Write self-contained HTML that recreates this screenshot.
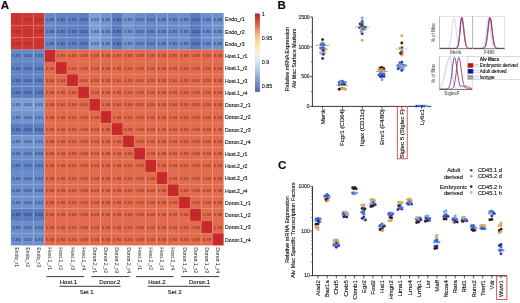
<!DOCTYPE html>
<html><head><meta charset="utf-8"><style>
html,body{margin:0;padding:0;background:#fff;width:520px;height:303px;overflow:hidden}
svg{display:block;font-family:"Liberation Sans", sans-serif;filter:blur(0.4px)}
text{stroke:#1a1a1a;stroke-width:0.14px}
text.c{stroke:none}
</style></head><body>
<svg width="520" height="303" viewBox="0 0 520 303">
<rect width="520" height="303" fill="#fff"/>
<rect x="10.90" y="13.00" width="11.24" height="12.28" fill="#cd3431" stroke="none" stroke-width="0.6"/>
<rect x="22.09" y="13.00" width="11.24" height="12.28" fill="#cf3833" stroke="none" stroke-width="0.6"/>
<rect x="33.29" y="13.00" width="11.24" height="12.28" fill="#cf3833" stroke="none" stroke-width="0.6"/>
<rect x="44.48" y="13.00" width="11.24" height="12.28" fill="#6789c8" stroke="none" stroke-width="0.6"/>
<rect x="55.68" y="13.00" width="11.24" height="12.28" fill="#6183c4" stroke="none" stroke-width="0.6"/>
<rect x="66.87" y="13.00" width="11.24" height="12.28" fill="#6183c4" stroke="none" stroke-width="0.6"/>
<rect x="78.07" y="13.00" width="11.24" height="12.28" fill="#5d7fc2" stroke="none" stroke-width="0.6"/>
<rect x="89.26" y="13.00" width="11.24" height="12.28" fill="#7d9dd4" stroke="none" stroke-width="0.6"/>
<rect x="100.46" y="13.00" width="11.24" height="12.28" fill="#7393cd" stroke="none" stroke-width="0.6"/>
<rect x="111.65" y="13.00" width="11.24" height="12.28" fill="#5c7ec1" stroke="none" stroke-width="0.6"/>
<rect x="122.85" y="13.00" width="11.24" height="12.28" fill="#7496cf" stroke="none" stroke-width="0.6"/>
<rect x="134.04" y="13.00" width="11.24" height="12.28" fill="#6a8cca" stroke="none" stroke-width="0.6"/>
<rect x="145.24" y="13.00" width="11.24" height="12.28" fill="#6587c7" stroke="none" stroke-width="0.6"/>
<rect x="156.43" y="13.00" width="11.24" height="12.28" fill="#6a8cca" stroke="none" stroke-width="0.6"/>
<rect x="167.63" y="13.00" width="11.24" height="12.28" fill="#6a8cca" stroke="none" stroke-width="0.6"/>
<rect x="178.82" y="13.00" width="11.24" height="12.28" fill="#6d8fcb" stroke="none" stroke-width="0.6"/>
<rect x="190.02" y="13.00" width="11.24" height="12.28" fill="#5a7bbf" stroke="none" stroke-width="0.6"/>
<rect x="201.21" y="13.00" width="11.24" height="12.28" fill="#6b8dca" stroke="none" stroke-width="0.6"/>
<rect x="212.41" y="13.00" width="11.24" height="12.28" fill="#6e90cb" stroke="none" stroke-width="0.6"/>
<rect x="10.90" y="25.23" width="11.24" height="12.28" fill="#cf3833" stroke="none" stroke-width="0.6"/>
<rect x="22.09" y="25.23" width="11.24" height="12.28" fill="#cd3431" stroke="none" stroke-width="0.6"/>
<rect x="33.29" y="25.23" width="11.24" height="12.28" fill="#cf3833" stroke="none" stroke-width="0.6"/>
<rect x="44.48" y="25.23" width="11.24" height="12.28" fill="#6789c8" stroke="none" stroke-width="0.6"/>
<rect x="55.68" y="25.23" width="11.24" height="12.28" fill="#6183c4" stroke="none" stroke-width="0.6"/>
<rect x="66.87" y="25.23" width="11.24" height="12.28" fill="#6183c4" stroke="none" stroke-width="0.6"/>
<rect x="78.07" y="25.23" width="11.24" height="12.28" fill="#5d7fc2" stroke="none" stroke-width="0.6"/>
<rect x="89.26" y="25.23" width="11.24" height="12.28" fill="#7d9dd4" stroke="none" stroke-width="0.6"/>
<rect x="100.46" y="25.23" width="11.24" height="12.28" fill="#7393cd" stroke="none" stroke-width="0.6"/>
<rect x="111.65" y="25.23" width="11.24" height="12.28" fill="#5c7ec1" stroke="none" stroke-width="0.6"/>
<rect x="122.85" y="25.23" width="11.24" height="12.28" fill="#7496cf" stroke="none" stroke-width="0.6"/>
<rect x="134.04" y="25.23" width="11.24" height="12.28" fill="#6a8cca" stroke="none" stroke-width="0.6"/>
<rect x="145.24" y="25.23" width="11.24" height="12.28" fill="#6587c7" stroke="none" stroke-width="0.6"/>
<rect x="156.43" y="25.23" width="11.24" height="12.28" fill="#6a8cca" stroke="none" stroke-width="0.6"/>
<rect x="167.63" y="25.23" width="11.24" height="12.28" fill="#6a8cca" stroke="none" stroke-width="0.6"/>
<rect x="178.82" y="25.23" width="11.24" height="12.28" fill="#6d8fcb" stroke="none" stroke-width="0.6"/>
<rect x="190.02" y="25.23" width="11.24" height="12.28" fill="#5a7bbf" stroke="none" stroke-width="0.6"/>
<rect x="201.21" y="25.23" width="11.24" height="12.28" fill="#6b8dca" stroke="none" stroke-width="0.6"/>
<rect x="212.41" y="25.23" width="11.24" height="12.28" fill="#6e90cb" stroke="none" stroke-width="0.6"/>
<rect x="10.90" y="37.46" width="11.24" height="12.28" fill="#cf3833" stroke="none" stroke-width="0.6"/>
<rect x="22.09" y="37.46" width="11.24" height="12.28" fill="#cf3833" stroke="none" stroke-width="0.6"/>
<rect x="33.29" y="37.46" width="11.24" height="12.28" fill="#cd3431" stroke="none" stroke-width="0.6"/>
<rect x="44.48" y="37.46" width="11.24" height="12.28" fill="#6789c8" stroke="none" stroke-width="0.6"/>
<rect x="55.68" y="37.46" width="11.24" height="12.28" fill="#6183c4" stroke="none" stroke-width="0.6"/>
<rect x="66.87" y="37.46" width="11.24" height="12.28" fill="#6183c4" stroke="none" stroke-width="0.6"/>
<rect x="78.07" y="37.46" width="11.24" height="12.28" fill="#5d7fc2" stroke="none" stroke-width="0.6"/>
<rect x="89.26" y="37.46" width="11.24" height="12.28" fill="#7d9dd4" stroke="none" stroke-width="0.6"/>
<rect x="100.46" y="37.46" width="11.24" height="12.28" fill="#7393cd" stroke="none" stroke-width="0.6"/>
<rect x="111.65" y="37.46" width="11.24" height="12.28" fill="#5c7ec1" stroke="none" stroke-width="0.6"/>
<rect x="122.85" y="37.46" width="11.24" height="12.28" fill="#7496cf" stroke="none" stroke-width="0.6"/>
<rect x="134.04" y="37.46" width="11.24" height="12.28" fill="#6a8cca" stroke="none" stroke-width="0.6"/>
<rect x="145.24" y="37.46" width="11.24" height="12.28" fill="#6587c7" stroke="none" stroke-width="0.6"/>
<rect x="156.43" y="37.46" width="11.24" height="12.28" fill="#6a8cca" stroke="none" stroke-width="0.6"/>
<rect x="167.63" y="37.46" width="11.24" height="12.28" fill="#6a8cca" stroke="none" stroke-width="0.6"/>
<rect x="178.82" y="37.46" width="11.24" height="12.28" fill="#6d8fcb" stroke="none" stroke-width="0.6"/>
<rect x="190.02" y="37.46" width="11.24" height="12.28" fill="#5a7bbf" stroke="none" stroke-width="0.6"/>
<rect x="201.21" y="37.46" width="11.24" height="12.28" fill="#6b8dca" stroke="none" stroke-width="0.6"/>
<rect x="212.41" y="37.46" width="11.24" height="12.28" fill="#6e90cb" stroke="none" stroke-width="0.6"/>
<rect x="10.90" y="49.69" width="11.24" height="12.28" fill="#6789c8" stroke="none" stroke-width="0.6"/>
<rect x="22.09" y="49.69" width="11.24" height="12.28" fill="#6789c8" stroke="none" stroke-width="0.6"/>
<rect x="33.29" y="49.69" width="11.24" height="12.28" fill="#6789c8" stroke="none" stroke-width="0.6"/>
<rect x="44.48" y="49.69" width="11.24" height="12.28" fill="#c9292b" stroke="none" stroke-width="0.6"/>
<rect x="55.68" y="49.69" width="11.24" height="12.28" fill="#e26a4d" stroke="none" stroke-width="0.6"/>
<rect x="66.87" y="49.69" width="11.24" height="12.28" fill="#e26a4d" stroke="none" stroke-width="0.6"/>
<rect x="78.07" y="49.69" width="11.24" height="12.28" fill="#e26a4d" stroke="none" stroke-width="0.6"/>
<rect x="89.26" y="49.69" width="11.24" height="12.28" fill="#e26a4d" stroke="none" stroke-width="0.6"/>
<rect x="100.46" y="49.69" width="11.24" height="12.28" fill="#e26a4d" stroke="none" stroke-width="0.6"/>
<rect x="111.65" y="49.69" width="11.24" height="12.28" fill="#e26a4d" stroke="none" stroke-width="0.6"/>
<rect x="122.85" y="49.69" width="11.24" height="12.28" fill="#e26a4d" stroke="none" stroke-width="0.6"/>
<rect x="134.04" y="49.69" width="11.24" height="12.28" fill="#e26a4d" stroke="none" stroke-width="0.6"/>
<rect x="145.24" y="49.69" width="11.24" height="12.28" fill="#e26a4d" stroke="none" stroke-width="0.6"/>
<rect x="156.43" y="49.69" width="11.24" height="12.28" fill="#e26a4d" stroke="none" stroke-width="0.6"/>
<rect x="167.63" y="49.69" width="11.24" height="12.28" fill="#e26a4d" stroke="none" stroke-width="0.6"/>
<rect x="178.82" y="49.69" width="11.24" height="12.28" fill="#e26a4d" stroke="none" stroke-width="0.6"/>
<rect x="190.02" y="49.69" width="11.24" height="12.28" fill="#e26a4d" stroke="none" stroke-width="0.6"/>
<rect x="201.21" y="49.69" width="11.24" height="12.28" fill="#e26a4d" stroke="none" stroke-width="0.6"/>
<rect x="212.41" y="49.69" width="11.24" height="12.28" fill="#e26a4d" stroke="none" stroke-width="0.6"/>
<rect x="10.90" y="61.93" width="11.24" height="12.28" fill="#6183c4" stroke="none" stroke-width="0.6"/>
<rect x="22.09" y="61.93" width="11.24" height="12.28" fill="#6183c4" stroke="none" stroke-width="0.6"/>
<rect x="33.29" y="61.93" width="11.24" height="12.28" fill="#6183c4" stroke="none" stroke-width="0.6"/>
<rect x="44.48" y="61.93" width="11.24" height="12.28" fill="#e26a4d" stroke="none" stroke-width="0.6"/>
<rect x="55.68" y="61.93" width="11.24" height="12.28" fill="#c9292b" stroke="none" stroke-width="0.6"/>
<rect x="66.87" y="61.93" width="11.24" height="12.28" fill="#e26a4d" stroke="none" stroke-width="0.6"/>
<rect x="78.07" y="61.93" width="11.24" height="12.28" fill="#e26a4d" stroke="none" stroke-width="0.6"/>
<rect x="89.26" y="61.93" width="11.24" height="12.28" fill="#e26a4d" stroke="none" stroke-width="0.6"/>
<rect x="100.46" y="61.93" width="11.24" height="12.28" fill="#e26a4d" stroke="none" stroke-width="0.6"/>
<rect x="111.65" y="61.93" width="11.24" height="12.28" fill="#e26a4d" stroke="none" stroke-width="0.6"/>
<rect x="122.85" y="61.93" width="11.24" height="12.28" fill="#e26a4d" stroke="none" stroke-width="0.6"/>
<rect x="134.04" y="61.93" width="11.24" height="12.28" fill="#e26a4d" stroke="none" stroke-width="0.6"/>
<rect x="145.24" y="61.93" width="11.24" height="12.28" fill="#e26a4d" stroke="none" stroke-width="0.6"/>
<rect x="156.43" y="61.93" width="11.24" height="12.28" fill="#e26a4d" stroke="none" stroke-width="0.6"/>
<rect x="167.63" y="61.93" width="11.24" height="12.28" fill="#e26a4d" stroke="none" stroke-width="0.6"/>
<rect x="178.82" y="61.93" width="11.24" height="12.28" fill="#e26a4d" stroke="none" stroke-width="0.6"/>
<rect x="190.02" y="61.93" width="11.24" height="12.28" fill="#e26a4d" stroke="none" stroke-width="0.6"/>
<rect x="201.21" y="61.93" width="11.24" height="12.28" fill="#e26a4d" stroke="none" stroke-width="0.6"/>
<rect x="212.41" y="61.93" width="11.24" height="12.28" fill="#e26a4d" stroke="none" stroke-width="0.6"/>
<rect x="10.90" y="74.16" width="11.24" height="12.28" fill="#6183c4" stroke="none" stroke-width="0.6"/>
<rect x="22.09" y="74.16" width="11.24" height="12.28" fill="#6183c4" stroke="none" stroke-width="0.6"/>
<rect x="33.29" y="74.16" width="11.24" height="12.28" fill="#6183c4" stroke="none" stroke-width="0.6"/>
<rect x="44.48" y="74.16" width="11.24" height="12.28" fill="#e26a4d" stroke="none" stroke-width="0.6"/>
<rect x="55.68" y="74.16" width="11.24" height="12.28" fill="#e26a4d" stroke="none" stroke-width="0.6"/>
<rect x="66.87" y="74.16" width="11.24" height="12.28" fill="#c9292b" stroke="none" stroke-width="0.6"/>
<rect x="78.07" y="74.16" width="11.24" height="12.28" fill="#e26a4d" stroke="none" stroke-width="0.6"/>
<rect x="89.26" y="74.16" width="11.24" height="12.28" fill="#e26a4d" stroke="none" stroke-width="0.6"/>
<rect x="100.46" y="74.16" width="11.24" height="12.28" fill="#e26a4d" stroke="none" stroke-width="0.6"/>
<rect x="111.65" y="74.16" width="11.24" height="12.28" fill="#e26a4d" stroke="none" stroke-width="0.6"/>
<rect x="122.85" y="74.16" width="11.24" height="12.28" fill="#e26a4d" stroke="none" stroke-width="0.6"/>
<rect x="134.04" y="74.16" width="11.24" height="12.28" fill="#e26a4d" stroke="none" stroke-width="0.6"/>
<rect x="145.24" y="74.16" width="11.24" height="12.28" fill="#e26a4d" stroke="none" stroke-width="0.6"/>
<rect x="156.43" y="74.16" width="11.24" height="12.28" fill="#e26a4d" stroke="none" stroke-width="0.6"/>
<rect x="167.63" y="74.16" width="11.24" height="12.28" fill="#e26a4d" stroke="none" stroke-width="0.6"/>
<rect x="178.82" y="74.16" width="11.24" height="12.28" fill="#e26a4d" stroke="none" stroke-width="0.6"/>
<rect x="190.02" y="74.16" width="11.24" height="12.28" fill="#e26a4d" stroke="none" stroke-width="0.6"/>
<rect x="201.21" y="74.16" width="11.24" height="12.28" fill="#e26a4d" stroke="none" stroke-width="0.6"/>
<rect x="212.41" y="74.16" width="11.24" height="12.28" fill="#e26a4d" stroke="none" stroke-width="0.6"/>
<rect x="10.90" y="86.39" width="11.24" height="12.28" fill="#5d7fc2" stroke="none" stroke-width="0.6"/>
<rect x="22.09" y="86.39" width="11.24" height="12.28" fill="#5d7fc2" stroke="none" stroke-width="0.6"/>
<rect x="33.29" y="86.39" width="11.24" height="12.28" fill="#5d7fc2" stroke="none" stroke-width="0.6"/>
<rect x="44.48" y="86.39" width="11.24" height="12.28" fill="#e26a4d" stroke="none" stroke-width="0.6"/>
<rect x="55.68" y="86.39" width="11.24" height="12.28" fill="#e26a4d" stroke="none" stroke-width="0.6"/>
<rect x="66.87" y="86.39" width="11.24" height="12.28" fill="#e26a4d" stroke="none" stroke-width="0.6"/>
<rect x="78.07" y="86.39" width="11.24" height="12.28" fill="#c9292b" stroke="none" stroke-width="0.6"/>
<rect x="89.26" y="86.39" width="11.24" height="12.28" fill="#e26a4d" stroke="none" stroke-width="0.6"/>
<rect x="100.46" y="86.39" width="11.24" height="12.28" fill="#e26a4d" stroke="none" stroke-width="0.6"/>
<rect x="111.65" y="86.39" width="11.24" height="12.28" fill="#e26a4d" stroke="none" stroke-width="0.6"/>
<rect x="122.85" y="86.39" width="11.24" height="12.28" fill="#e26a4d" stroke="none" stroke-width="0.6"/>
<rect x="134.04" y="86.39" width="11.24" height="12.28" fill="#e26a4d" stroke="none" stroke-width="0.6"/>
<rect x="145.24" y="86.39" width="11.24" height="12.28" fill="#e26a4d" stroke="none" stroke-width="0.6"/>
<rect x="156.43" y="86.39" width="11.24" height="12.28" fill="#e26a4d" stroke="none" stroke-width="0.6"/>
<rect x="167.63" y="86.39" width="11.24" height="12.28" fill="#e26a4d" stroke="none" stroke-width="0.6"/>
<rect x="178.82" y="86.39" width="11.24" height="12.28" fill="#e26a4d" stroke="none" stroke-width="0.6"/>
<rect x="190.02" y="86.39" width="11.24" height="12.28" fill="#e26a4d" stroke="none" stroke-width="0.6"/>
<rect x="201.21" y="86.39" width="11.24" height="12.28" fill="#e26a4d" stroke="none" stroke-width="0.6"/>
<rect x="212.41" y="86.39" width="11.24" height="12.28" fill="#e26a4d" stroke="none" stroke-width="0.6"/>
<rect x="10.90" y="98.62" width="11.24" height="12.28" fill="#7d9dd4" stroke="none" stroke-width="0.6"/>
<rect x="22.09" y="98.62" width="11.24" height="12.28" fill="#7d9dd4" stroke="none" stroke-width="0.6"/>
<rect x="33.29" y="98.62" width="11.24" height="12.28" fill="#7d9dd4" stroke="none" stroke-width="0.6"/>
<rect x="44.48" y="98.62" width="11.24" height="12.28" fill="#e26a4d" stroke="none" stroke-width="0.6"/>
<rect x="55.68" y="98.62" width="11.24" height="12.28" fill="#e26a4d" stroke="none" stroke-width="0.6"/>
<rect x="66.87" y="98.62" width="11.24" height="12.28" fill="#e26a4d" stroke="none" stroke-width="0.6"/>
<rect x="78.07" y="98.62" width="11.24" height="12.28" fill="#e26a4d" stroke="none" stroke-width="0.6"/>
<rect x="89.26" y="98.62" width="11.24" height="12.28" fill="#c9292b" stroke="none" stroke-width="0.6"/>
<rect x="100.46" y="98.62" width="11.24" height="12.28" fill="#e26a4d" stroke="none" stroke-width="0.6"/>
<rect x="111.65" y="98.62" width="11.24" height="12.28" fill="#e26a4d" stroke="none" stroke-width="0.6"/>
<rect x="122.85" y="98.62" width="11.24" height="12.28" fill="#e26a4d" stroke="none" stroke-width="0.6"/>
<rect x="134.04" y="98.62" width="11.24" height="12.28" fill="#e26a4d" stroke="none" stroke-width="0.6"/>
<rect x="145.24" y="98.62" width="11.24" height="12.28" fill="#e26a4d" stroke="none" stroke-width="0.6"/>
<rect x="156.43" y="98.62" width="11.24" height="12.28" fill="#e26a4d" stroke="none" stroke-width="0.6"/>
<rect x="167.63" y="98.62" width="11.24" height="12.28" fill="#e26a4d" stroke="none" stroke-width="0.6"/>
<rect x="178.82" y="98.62" width="11.24" height="12.28" fill="#e26a4d" stroke="none" stroke-width="0.6"/>
<rect x="190.02" y="98.62" width="11.24" height="12.28" fill="#e26a4d" stroke="none" stroke-width="0.6"/>
<rect x="201.21" y="98.62" width="11.24" height="12.28" fill="#e26a4d" stroke="none" stroke-width="0.6"/>
<rect x="212.41" y="98.62" width="11.24" height="12.28" fill="#e26a4d" stroke="none" stroke-width="0.6"/>
<rect x="10.90" y="110.85" width="11.24" height="12.28" fill="#7393cd" stroke="none" stroke-width="0.6"/>
<rect x="22.09" y="110.85" width="11.24" height="12.28" fill="#7393cd" stroke="none" stroke-width="0.6"/>
<rect x="33.29" y="110.85" width="11.24" height="12.28" fill="#7393cd" stroke="none" stroke-width="0.6"/>
<rect x="44.48" y="110.85" width="11.24" height="12.28" fill="#e26a4d" stroke="none" stroke-width="0.6"/>
<rect x="55.68" y="110.85" width="11.24" height="12.28" fill="#e26a4d" stroke="none" stroke-width="0.6"/>
<rect x="66.87" y="110.85" width="11.24" height="12.28" fill="#e26a4d" stroke="none" stroke-width="0.6"/>
<rect x="78.07" y="110.85" width="11.24" height="12.28" fill="#e26a4d" stroke="none" stroke-width="0.6"/>
<rect x="89.26" y="110.85" width="11.24" height="12.28" fill="#e26a4d" stroke="none" stroke-width="0.6"/>
<rect x="100.46" y="110.85" width="11.24" height="12.28" fill="#c9292b" stroke="none" stroke-width="0.6"/>
<rect x="111.65" y="110.85" width="11.24" height="12.28" fill="#e26a4d" stroke="none" stroke-width="0.6"/>
<rect x="122.85" y="110.85" width="11.24" height="12.28" fill="#e26a4d" stroke="none" stroke-width="0.6"/>
<rect x="134.04" y="110.85" width="11.24" height="12.28" fill="#e26a4d" stroke="none" stroke-width="0.6"/>
<rect x="145.24" y="110.85" width="11.24" height="12.28" fill="#e26a4d" stroke="none" stroke-width="0.6"/>
<rect x="156.43" y="110.85" width="11.24" height="12.28" fill="#e26a4d" stroke="none" stroke-width="0.6"/>
<rect x="167.63" y="110.85" width="11.24" height="12.28" fill="#e26a4d" stroke="none" stroke-width="0.6"/>
<rect x="178.82" y="110.85" width="11.24" height="12.28" fill="#e26a4d" stroke="none" stroke-width="0.6"/>
<rect x="190.02" y="110.85" width="11.24" height="12.28" fill="#e26a4d" stroke="none" stroke-width="0.6"/>
<rect x="201.21" y="110.85" width="11.24" height="12.28" fill="#e26a4d" stroke="none" stroke-width="0.6"/>
<rect x="212.41" y="110.85" width="11.24" height="12.28" fill="#e26a4d" stroke="none" stroke-width="0.6"/>
<rect x="10.90" y="123.08" width="11.24" height="12.28" fill="#5c7ec1" stroke="none" stroke-width="0.6"/>
<rect x="22.09" y="123.08" width="11.24" height="12.28" fill="#5c7ec1" stroke="none" stroke-width="0.6"/>
<rect x="33.29" y="123.08" width="11.24" height="12.28" fill="#5c7ec1" stroke="none" stroke-width="0.6"/>
<rect x="44.48" y="123.08" width="11.24" height="12.28" fill="#e26a4d" stroke="none" stroke-width="0.6"/>
<rect x="55.68" y="123.08" width="11.24" height="12.28" fill="#e26a4d" stroke="none" stroke-width="0.6"/>
<rect x="66.87" y="123.08" width="11.24" height="12.28" fill="#e26a4d" stroke="none" stroke-width="0.6"/>
<rect x="78.07" y="123.08" width="11.24" height="12.28" fill="#e26a4d" stroke="none" stroke-width="0.6"/>
<rect x="89.26" y="123.08" width="11.24" height="12.28" fill="#e26a4d" stroke="none" stroke-width="0.6"/>
<rect x="100.46" y="123.08" width="11.24" height="12.28" fill="#e26a4d" stroke="none" stroke-width="0.6"/>
<rect x="111.65" y="123.08" width="11.24" height="12.28" fill="#c9292b" stroke="none" stroke-width="0.6"/>
<rect x="122.85" y="123.08" width="11.24" height="12.28" fill="#e26a4d" stroke="none" stroke-width="0.6"/>
<rect x="134.04" y="123.08" width="11.24" height="12.28" fill="#e26a4d" stroke="none" stroke-width="0.6"/>
<rect x="145.24" y="123.08" width="11.24" height="12.28" fill="#e26a4d" stroke="none" stroke-width="0.6"/>
<rect x="156.43" y="123.08" width="11.24" height="12.28" fill="#e26a4d" stroke="none" stroke-width="0.6"/>
<rect x="167.63" y="123.08" width="11.24" height="12.28" fill="#e26a4d" stroke="none" stroke-width="0.6"/>
<rect x="178.82" y="123.08" width="11.24" height="12.28" fill="#e26a4d" stroke="none" stroke-width="0.6"/>
<rect x="190.02" y="123.08" width="11.24" height="12.28" fill="#e26a4d" stroke="none" stroke-width="0.6"/>
<rect x="201.21" y="123.08" width="11.24" height="12.28" fill="#e26a4d" stroke="none" stroke-width="0.6"/>
<rect x="212.41" y="123.08" width="11.24" height="12.28" fill="#e26a4d" stroke="none" stroke-width="0.6"/>
<rect x="10.90" y="135.32" width="11.24" height="12.28" fill="#7496cf" stroke="none" stroke-width="0.6"/>
<rect x="22.09" y="135.32" width="11.24" height="12.28" fill="#7496cf" stroke="none" stroke-width="0.6"/>
<rect x="33.29" y="135.32" width="11.24" height="12.28" fill="#7496cf" stroke="none" stroke-width="0.6"/>
<rect x="44.48" y="135.32" width="11.24" height="12.28" fill="#e26a4d" stroke="none" stroke-width="0.6"/>
<rect x="55.68" y="135.32" width="11.24" height="12.28" fill="#e26a4d" stroke="none" stroke-width="0.6"/>
<rect x="66.87" y="135.32" width="11.24" height="12.28" fill="#e26a4d" stroke="none" stroke-width="0.6"/>
<rect x="78.07" y="135.32" width="11.24" height="12.28" fill="#e26a4d" stroke="none" stroke-width="0.6"/>
<rect x="89.26" y="135.32" width="11.24" height="12.28" fill="#e26a4d" stroke="none" stroke-width="0.6"/>
<rect x="100.46" y="135.32" width="11.24" height="12.28" fill="#e26a4d" stroke="none" stroke-width="0.6"/>
<rect x="111.65" y="135.32" width="11.24" height="12.28" fill="#e26a4d" stroke="none" stroke-width="0.6"/>
<rect x="122.85" y="135.32" width="11.24" height="12.28" fill="#c9292b" stroke="none" stroke-width="0.6"/>
<rect x="134.04" y="135.32" width="11.24" height="12.28" fill="#e26a4d" stroke="none" stroke-width="0.6"/>
<rect x="145.24" y="135.32" width="11.24" height="12.28" fill="#e26a4d" stroke="none" stroke-width="0.6"/>
<rect x="156.43" y="135.32" width="11.24" height="12.28" fill="#e26a4d" stroke="none" stroke-width="0.6"/>
<rect x="167.63" y="135.32" width="11.24" height="12.28" fill="#e26a4d" stroke="none" stroke-width="0.6"/>
<rect x="178.82" y="135.32" width="11.24" height="12.28" fill="#e26a4d" stroke="none" stroke-width="0.6"/>
<rect x="190.02" y="135.32" width="11.24" height="12.28" fill="#e26a4d" stroke="none" stroke-width="0.6"/>
<rect x="201.21" y="135.32" width="11.24" height="12.28" fill="#e26a4d" stroke="none" stroke-width="0.6"/>
<rect x="212.41" y="135.32" width="11.24" height="12.28" fill="#e26a4d" stroke="none" stroke-width="0.6"/>
<rect x="10.90" y="147.55" width="11.24" height="12.28" fill="#6a8cca" stroke="none" stroke-width="0.6"/>
<rect x="22.09" y="147.55" width="11.24" height="12.28" fill="#6a8cca" stroke="none" stroke-width="0.6"/>
<rect x="33.29" y="147.55" width="11.24" height="12.28" fill="#6a8cca" stroke="none" stroke-width="0.6"/>
<rect x="44.48" y="147.55" width="11.24" height="12.28" fill="#e26a4d" stroke="none" stroke-width="0.6"/>
<rect x="55.68" y="147.55" width="11.24" height="12.28" fill="#e26a4d" stroke="none" stroke-width="0.6"/>
<rect x="66.87" y="147.55" width="11.24" height="12.28" fill="#e26a4d" stroke="none" stroke-width="0.6"/>
<rect x="78.07" y="147.55" width="11.24" height="12.28" fill="#e26a4d" stroke="none" stroke-width="0.6"/>
<rect x="89.26" y="147.55" width="11.24" height="12.28" fill="#e26a4d" stroke="none" stroke-width="0.6"/>
<rect x="100.46" y="147.55" width="11.24" height="12.28" fill="#e26a4d" stroke="none" stroke-width="0.6"/>
<rect x="111.65" y="147.55" width="11.24" height="12.28" fill="#e26a4d" stroke="none" stroke-width="0.6"/>
<rect x="122.85" y="147.55" width="11.24" height="12.28" fill="#e26a4d" stroke="none" stroke-width="0.6"/>
<rect x="134.04" y="147.55" width="11.24" height="12.28" fill="#c9292b" stroke="none" stroke-width="0.6"/>
<rect x="145.24" y="147.55" width="11.24" height="12.28" fill="#e26a4d" stroke="none" stroke-width="0.6"/>
<rect x="156.43" y="147.55" width="11.24" height="12.28" fill="#e26a4d" stroke="none" stroke-width="0.6"/>
<rect x="167.63" y="147.55" width="11.24" height="12.28" fill="#e26a4d" stroke="none" stroke-width="0.6"/>
<rect x="178.82" y="147.55" width="11.24" height="12.28" fill="#e26a4d" stroke="none" stroke-width="0.6"/>
<rect x="190.02" y="147.55" width="11.24" height="12.28" fill="#e26a4d" stroke="none" stroke-width="0.6"/>
<rect x="201.21" y="147.55" width="11.24" height="12.28" fill="#e26a4d" stroke="none" stroke-width="0.6"/>
<rect x="212.41" y="147.55" width="11.24" height="12.28" fill="#e26a4d" stroke="none" stroke-width="0.6"/>
<rect x="10.90" y="159.78" width="11.24" height="12.28" fill="#6587c7" stroke="none" stroke-width="0.6"/>
<rect x="22.09" y="159.78" width="11.24" height="12.28" fill="#6587c7" stroke="none" stroke-width="0.6"/>
<rect x="33.29" y="159.78" width="11.24" height="12.28" fill="#6587c7" stroke="none" stroke-width="0.6"/>
<rect x="44.48" y="159.78" width="11.24" height="12.28" fill="#e26a4d" stroke="none" stroke-width="0.6"/>
<rect x="55.68" y="159.78" width="11.24" height="12.28" fill="#e26a4d" stroke="none" stroke-width="0.6"/>
<rect x="66.87" y="159.78" width="11.24" height="12.28" fill="#e26a4d" stroke="none" stroke-width="0.6"/>
<rect x="78.07" y="159.78" width="11.24" height="12.28" fill="#e26a4d" stroke="none" stroke-width="0.6"/>
<rect x="89.26" y="159.78" width="11.24" height="12.28" fill="#e26a4d" stroke="none" stroke-width="0.6"/>
<rect x="100.46" y="159.78" width="11.24" height="12.28" fill="#e26a4d" stroke="none" stroke-width="0.6"/>
<rect x="111.65" y="159.78" width="11.24" height="12.28" fill="#e26a4d" stroke="none" stroke-width="0.6"/>
<rect x="122.85" y="159.78" width="11.24" height="12.28" fill="#e26a4d" stroke="none" stroke-width="0.6"/>
<rect x="134.04" y="159.78" width="11.24" height="12.28" fill="#e26a4d" stroke="none" stroke-width="0.6"/>
<rect x="145.24" y="159.78" width="11.24" height="12.28" fill="#c9292b" stroke="none" stroke-width="0.6"/>
<rect x="156.43" y="159.78" width="11.24" height="12.28" fill="#e26a4d" stroke="none" stroke-width="0.6"/>
<rect x="167.63" y="159.78" width="11.24" height="12.28" fill="#e26a4d" stroke="none" stroke-width="0.6"/>
<rect x="178.82" y="159.78" width="11.24" height="12.28" fill="#e26a4d" stroke="none" stroke-width="0.6"/>
<rect x="190.02" y="159.78" width="11.24" height="12.28" fill="#e26a4d" stroke="none" stroke-width="0.6"/>
<rect x="201.21" y="159.78" width="11.24" height="12.28" fill="#e26a4d" stroke="none" stroke-width="0.6"/>
<rect x="212.41" y="159.78" width="11.24" height="12.28" fill="#e26a4d" stroke="none" stroke-width="0.6"/>
<rect x="10.90" y="172.01" width="11.24" height="12.28" fill="#6a8cca" stroke="none" stroke-width="0.6"/>
<rect x="22.09" y="172.01" width="11.24" height="12.28" fill="#6a8cca" stroke="none" stroke-width="0.6"/>
<rect x="33.29" y="172.01" width="11.24" height="12.28" fill="#6a8cca" stroke="none" stroke-width="0.6"/>
<rect x="44.48" y="172.01" width="11.24" height="12.28" fill="#e26a4d" stroke="none" stroke-width="0.6"/>
<rect x="55.68" y="172.01" width="11.24" height="12.28" fill="#e26a4d" stroke="none" stroke-width="0.6"/>
<rect x="66.87" y="172.01" width="11.24" height="12.28" fill="#e26a4d" stroke="none" stroke-width="0.6"/>
<rect x="78.07" y="172.01" width="11.24" height="12.28" fill="#e26a4d" stroke="none" stroke-width="0.6"/>
<rect x="89.26" y="172.01" width="11.24" height="12.28" fill="#e26a4d" stroke="none" stroke-width="0.6"/>
<rect x="100.46" y="172.01" width="11.24" height="12.28" fill="#e26a4d" stroke="none" stroke-width="0.6"/>
<rect x="111.65" y="172.01" width="11.24" height="12.28" fill="#e26a4d" stroke="none" stroke-width="0.6"/>
<rect x="122.85" y="172.01" width="11.24" height="12.28" fill="#e26a4d" stroke="none" stroke-width="0.6"/>
<rect x="134.04" y="172.01" width="11.24" height="12.28" fill="#e26a4d" stroke="none" stroke-width="0.6"/>
<rect x="145.24" y="172.01" width="11.24" height="12.28" fill="#e26a4d" stroke="none" stroke-width="0.6"/>
<rect x="156.43" y="172.01" width="11.24" height="12.28" fill="#c9292b" stroke="none" stroke-width="0.6"/>
<rect x="167.63" y="172.01" width="11.24" height="12.28" fill="#e26a4d" stroke="none" stroke-width="0.6"/>
<rect x="178.82" y="172.01" width="11.24" height="12.28" fill="#e26a4d" stroke="none" stroke-width="0.6"/>
<rect x="190.02" y="172.01" width="11.24" height="12.28" fill="#e26a4d" stroke="none" stroke-width="0.6"/>
<rect x="201.21" y="172.01" width="11.24" height="12.28" fill="#e26a4d" stroke="none" stroke-width="0.6"/>
<rect x="212.41" y="172.01" width="11.24" height="12.28" fill="#e26a4d" stroke="none" stroke-width="0.6"/>
<rect x="10.90" y="184.24" width="11.24" height="12.28" fill="#6a8cca" stroke="none" stroke-width="0.6"/>
<rect x="22.09" y="184.24" width="11.24" height="12.28" fill="#6a8cca" stroke="none" stroke-width="0.6"/>
<rect x="33.29" y="184.24" width="11.24" height="12.28" fill="#6a8cca" stroke="none" stroke-width="0.6"/>
<rect x="44.48" y="184.24" width="11.24" height="12.28" fill="#e26a4d" stroke="none" stroke-width="0.6"/>
<rect x="55.68" y="184.24" width="11.24" height="12.28" fill="#e26a4d" stroke="none" stroke-width="0.6"/>
<rect x="66.87" y="184.24" width="11.24" height="12.28" fill="#e26a4d" stroke="none" stroke-width="0.6"/>
<rect x="78.07" y="184.24" width="11.24" height="12.28" fill="#e26a4d" stroke="none" stroke-width="0.6"/>
<rect x="89.26" y="184.24" width="11.24" height="12.28" fill="#e26a4d" stroke="none" stroke-width="0.6"/>
<rect x="100.46" y="184.24" width="11.24" height="12.28" fill="#e26a4d" stroke="none" stroke-width="0.6"/>
<rect x="111.65" y="184.24" width="11.24" height="12.28" fill="#e26a4d" stroke="none" stroke-width="0.6"/>
<rect x="122.85" y="184.24" width="11.24" height="12.28" fill="#e26a4d" stroke="none" stroke-width="0.6"/>
<rect x="134.04" y="184.24" width="11.24" height="12.28" fill="#e26a4d" stroke="none" stroke-width="0.6"/>
<rect x="145.24" y="184.24" width="11.24" height="12.28" fill="#e26a4d" stroke="none" stroke-width="0.6"/>
<rect x="156.43" y="184.24" width="11.24" height="12.28" fill="#e26a4d" stroke="none" stroke-width="0.6"/>
<rect x="167.63" y="184.24" width="11.24" height="12.28" fill="#c9292b" stroke="none" stroke-width="0.6"/>
<rect x="178.82" y="184.24" width="11.24" height="12.28" fill="#e26a4d" stroke="none" stroke-width="0.6"/>
<rect x="190.02" y="184.24" width="11.24" height="12.28" fill="#e26a4d" stroke="none" stroke-width="0.6"/>
<rect x="201.21" y="184.24" width="11.24" height="12.28" fill="#e26a4d" stroke="none" stroke-width="0.6"/>
<rect x="212.41" y="184.24" width="11.24" height="12.28" fill="#e26a4d" stroke="none" stroke-width="0.6"/>
<rect x="10.90" y="196.47" width="11.24" height="12.28" fill="#6d8fcb" stroke="none" stroke-width="0.6"/>
<rect x="22.09" y="196.47" width="11.24" height="12.28" fill="#6d8fcb" stroke="none" stroke-width="0.6"/>
<rect x="33.29" y="196.47" width="11.24" height="12.28" fill="#6d8fcb" stroke="none" stroke-width="0.6"/>
<rect x="44.48" y="196.47" width="11.24" height="12.28" fill="#e26a4d" stroke="none" stroke-width="0.6"/>
<rect x="55.68" y="196.47" width="11.24" height="12.28" fill="#e26a4d" stroke="none" stroke-width="0.6"/>
<rect x="66.87" y="196.47" width="11.24" height="12.28" fill="#e26a4d" stroke="none" stroke-width="0.6"/>
<rect x="78.07" y="196.47" width="11.24" height="12.28" fill="#e26a4d" stroke="none" stroke-width="0.6"/>
<rect x="89.26" y="196.47" width="11.24" height="12.28" fill="#e26a4d" stroke="none" stroke-width="0.6"/>
<rect x="100.46" y="196.47" width="11.24" height="12.28" fill="#e26a4d" stroke="none" stroke-width="0.6"/>
<rect x="111.65" y="196.47" width="11.24" height="12.28" fill="#e26a4d" stroke="none" stroke-width="0.6"/>
<rect x="122.85" y="196.47" width="11.24" height="12.28" fill="#e26a4d" stroke="none" stroke-width="0.6"/>
<rect x="134.04" y="196.47" width="11.24" height="12.28" fill="#e26a4d" stroke="none" stroke-width="0.6"/>
<rect x="145.24" y="196.47" width="11.24" height="12.28" fill="#e26a4d" stroke="none" stroke-width="0.6"/>
<rect x="156.43" y="196.47" width="11.24" height="12.28" fill="#e26a4d" stroke="none" stroke-width="0.6"/>
<rect x="167.63" y="196.47" width="11.24" height="12.28" fill="#e26a4d" stroke="none" stroke-width="0.6"/>
<rect x="178.82" y="196.47" width="11.24" height="12.28" fill="#c9292b" stroke="none" stroke-width="0.6"/>
<rect x="190.02" y="196.47" width="11.24" height="12.28" fill="#e26a4d" stroke="none" stroke-width="0.6"/>
<rect x="201.21" y="196.47" width="11.24" height="12.28" fill="#e26a4d" stroke="none" stroke-width="0.6"/>
<rect x="212.41" y="196.47" width="11.24" height="12.28" fill="#e26a4d" stroke="none" stroke-width="0.6"/>
<rect x="10.90" y="208.71" width="11.24" height="12.28" fill="#5a7bbf" stroke="none" stroke-width="0.6"/>
<rect x="22.09" y="208.71" width="11.24" height="12.28" fill="#5a7bbf" stroke="none" stroke-width="0.6"/>
<rect x="33.29" y="208.71" width="11.24" height="12.28" fill="#5a7bbf" stroke="none" stroke-width="0.6"/>
<rect x="44.48" y="208.71" width="11.24" height="12.28" fill="#e26a4d" stroke="none" stroke-width="0.6"/>
<rect x="55.68" y="208.71" width="11.24" height="12.28" fill="#e26a4d" stroke="none" stroke-width="0.6"/>
<rect x="66.87" y="208.71" width="11.24" height="12.28" fill="#e26a4d" stroke="none" stroke-width="0.6"/>
<rect x="78.07" y="208.71" width="11.24" height="12.28" fill="#e26a4d" stroke="none" stroke-width="0.6"/>
<rect x="89.26" y="208.71" width="11.24" height="12.28" fill="#e26a4d" stroke="none" stroke-width="0.6"/>
<rect x="100.46" y="208.71" width="11.24" height="12.28" fill="#e26a4d" stroke="none" stroke-width="0.6"/>
<rect x="111.65" y="208.71" width="11.24" height="12.28" fill="#e26a4d" stroke="none" stroke-width="0.6"/>
<rect x="122.85" y="208.71" width="11.24" height="12.28" fill="#e26a4d" stroke="none" stroke-width="0.6"/>
<rect x="134.04" y="208.71" width="11.24" height="12.28" fill="#e26a4d" stroke="none" stroke-width="0.6"/>
<rect x="145.24" y="208.71" width="11.24" height="12.28" fill="#e26a4d" stroke="none" stroke-width="0.6"/>
<rect x="156.43" y="208.71" width="11.24" height="12.28" fill="#e26a4d" stroke="none" stroke-width="0.6"/>
<rect x="167.63" y="208.71" width="11.24" height="12.28" fill="#e26a4d" stroke="none" stroke-width="0.6"/>
<rect x="178.82" y="208.71" width="11.24" height="12.28" fill="#e26a4d" stroke="none" stroke-width="0.6"/>
<rect x="190.02" y="208.71" width="11.24" height="12.28" fill="#c9292b" stroke="none" stroke-width="0.6"/>
<rect x="201.21" y="208.71" width="11.24" height="12.28" fill="#e26a4d" stroke="none" stroke-width="0.6"/>
<rect x="212.41" y="208.71" width="11.24" height="12.28" fill="#e26a4d" stroke="none" stroke-width="0.6"/>
<rect x="10.90" y="220.94" width="11.24" height="12.28" fill="#6b8dca" stroke="none" stroke-width="0.6"/>
<rect x="22.09" y="220.94" width="11.24" height="12.28" fill="#6b8dca" stroke="none" stroke-width="0.6"/>
<rect x="33.29" y="220.94" width="11.24" height="12.28" fill="#6b8dca" stroke="none" stroke-width="0.6"/>
<rect x="44.48" y="220.94" width="11.24" height="12.28" fill="#e26a4d" stroke="none" stroke-width="0.6"/>
<rect x="55.68" y="220.94" width="11.24" height="12.28" fill="#e26a4d" stroke="none" stroke-width="0.6"/>
<rect x="66.87" y="220.94" width="11.24" height="12.28" fill="#e26a4d" stroke="none" stroke-width="0.6"/>
<rect x="78.07" y="220.94" width="11.24" height="12.28" fill="#e26a4d" stroke="none" stroke-width="0.6"/>
<rect x="89.26" y="220.94" width="11.24" height="12.28" fill="#e26a4d" stroke="none" stroke-width="0.6"/>
<rect x="100.46" y="220.94" width="11.24" height="12.28" fill="#e26a4d" stroke="none" stroke-width="0.6"/>
<rect x="111.65" y="220.94" width="11.24" height="12.28" fill="#e26a4d" stroke="none" stroke-width="0.6"/>
<rect x="122.85" y="220.94" width="11.24" height="12.28" fill="#e26a4d" stroke="none" stroke-width="0.6"/>
<rect x="134.04" y="220.94" width="11.24" height="12.28" fill="#e26a4d" stroke="none" stroke-width="0.6"/>
<rect x="145.24" y="220.94" width="11.24" height="12.28" fill="#e26a4d" stroke="none" stroke-width="0.6"/>
<rect x="156.43" y="220.94" width="11.24" height="12.28" fill="#e26a4d" stroke="none" stroke-width="0.6"/>
<rect x="167.63" y="220.94" width="11.24" height="12.28" fill="#e26a4d" stroke="none" stroke-width="0.6"/>
<rect x="178.82" y="220.94" width="11.24" height="12.28" fill="#e26a4d" stroke="none" stroke-width="0.6"/>
<rect x="190.02" y="220.94" width="11.24" height="12.28" fill="#e26a4d" stroke="none" stroke-width="0.6"/>
<rect x="201.21" y="220.94" width="11.24" height="12.28" fill="#c9292b" stroke="none" stroke-width="0.6"/>
<rect x="212.41" y="220.94" width="11.24" height="12.28" fill="#e26a4d" stroke="none" stroke-width="0.6"/>
<rect x="10.90" y="233.17" width="11.24" height="12.28" fill="#6e90cb" stroke="none" stroke-width="0.6"/>
<rect x="22.09" y="233.17" width="11.24" height="12.28" fill="#6e90cb" stroke="none" stroke-width="0.6"/>
<rect x="33.29" y="233.17" width="11.24" height="12.28" fill="#6e90cb" stroke="none" stroke-width="0.6"/>
<rect x="44.48" y="233.17" width="11.24" height="12.28" fill="#e26a4d" stroke="none" stroke-width="0.6"/>
<rect x="55.68" y="233.17" width="11.24" height="12.28" fill="#e26a4d" stroke="none" stroke-width="0.6"/>
<rect x="66.87" y="233.17" width="11.24" height="12.28" fill="#e26a4d" stroke="none" stroke-width="0.6"/>
<rect x="78.07" y="233.17" width="11.24" height="12.28" fill="#e26a4d" stroke="none" stroke-width="0.6"/>
<rect x="89.26" y="233.17" width="11.24" height="12.28" fill="#e26a4d" stroke="none" stroke-width="0.6"/>
<rect x="100.46" y="233.17" width="11.24" height="12.28" fill="#e26a4d" stroke="none" stroke-width="0.6"/>
<rect x="111.65" y="233.17" width="11.24" height="12.28" fill="#e26a4d" stroke="none" stroke-width="0.6"/>
<rect x="122.85" y="233.17" width="11.24" height="12.28" fill="#e26a4d" stroke="none" stroke-width="0.6"/>
<rect x="134.04" y="233.17" width="11.24" height="12.28" fill="#e26a4d" stroke="none" stroke-width="0.6"/>
<rect x="145.24" y="233.17" width="11.24" height="12.28" fill="#e26a4d" stroke="none" stroke-width="0.6"/>
<rect x="156.43" y="233.17" width="11.24" height="12.28" fill="#e26a4d" stroke="none" stroke-width="0.6"/>
<rect x="167.63" y="233.17" width="11.24" height="12.28" fill="#e26a4d" stroke="none" stroke-width="0.6"/>
<rect x="178.82" y="233.17" width="11.24" height="12.28" fill="#e26a4d" stroke="none" stroke-width="0.6"/>
<rect x="190.02" y="233.17" width="11.24" height="12.28" fill="#e26a4d" stroke="none" stroke-width="0.6"/>
<rect x="201.21" y="233.17" width="11.24" height="12.28" fill="#e26a4d" stroke="none" stroke-width="0.6"/>
<rect x="212.41" y="233.17" width="11.24" height="12.28" fill="#c9292b" stroke="none" stroke-width="0.6"/>
<line x1="22.09" y1="13.00" x2="22.09" y2="245.40" stroke="rgba(255,255,255,0.12)" stroke-width="0.7"/>
<line x1="10.90" y1="25.23" x2="223.60" y2="25.23" stroke="rgba(255,255,255,0.12)" stroke-width="0.7"/>
<line x1="33.29" y1="13.00" x2="33.29" y2="245.40" stroke="rgba(255,255,255,0.12)" stroke-width="0.7"/>
<line x1="10.90" y1="37.46" x2="223.60" y2="37.46" stroke="rgba(255,255,255,0.12)" stroke-width="0.7"/>
<line x1="44.48" y1="13.00" x2="44.48" y2="245.40" stroke="rgba(255,255,255,0.12)" stroke-width="0.7"/>
<line x1="10.90" y1="49.69" x2="223.60" y2="49.69" stroke="rgba(255,255,255,0.12)" stroke-width="0.7"/>
<line x1="55.68" y1="13.00" x2="55.68" y2="245.40" stroke="rgba(255,255,255,0.12)" stroke-width="0.7"/>
<line x1="10.90" y1="61.93" x2="223.60" y2="61.93" stroke="rgba(255,255,255,0.12)" stroke-width="0.7"/>
<line x1="66.87" y1="13.00" x2="66.87" y2="245.40" stroke="rgba(255,255,255,0.12)" stroke-width="0.7"/>
<line x1="10.90" y1="74.16" x2="223.60" y2="74.16" stroke="rgba(255,255,255,0.12)" stroke-width="0.7"/>
<line x1="78.07" y1="13.00" x2="78.07" y2="245.40" stroke="rgba(255,255,255,0.12)" stroke-width="0.7"/>
<line x1="10.90" y1="86.39" x2="223.60" y2="86.39" stroke="rgba(255,255,255,0.12)" stroke-width="0.7"/>
<line x1="89.26" y1="13.00" x2="89.26" y2="245.40" stroke="rgba(255,255,255,0.12)" stroke-width="0.7"/>
<line x1="10.90" y1="98.62" x2="223.60" y2="98.62" stroke="rgba(255,255,255,0.12)" stroke-width="0.7"/>
<line x1="100.46" y1="13.00" x2="100.46" y2="245.40" stroke="rgba(255,255,255,0.12)" stroke-width="0.7"/>
<line x1="10.90" y1="110.85" x2="223.60" y2="110.85" stroke="rgba(255,255,255,0.12)" stroke-width="0.7"/>
<line x1="111.65" y1="13.00" x2="111.65" y2="245.40" stroke="rgba(255,255,255,0.12)" stroke-width="0.7"/>
<line x1="10.90" y1="123.08" x2="223.60" y2="123.08" stroke="rgba(255,255,255,0.12)" stroke-width="0.7"/>
<line x1="122.85" y1="13.00" x2="122.85" y2="245.40" stroke="rgba(255,255,255,0.12)" stroke-width="0.7"/>
<line x1="10.90" y1="135.32" x2="223.60" y2="135.32" stroke="rgba(255,255,255,0.12)" stroke-width="0.7"/>
<line x1="134.04" y1="13.00" x2="134.04" y2="245.40" stroke="rgba(255,255,255,0.12)" stroke-width="0.7"/>
<line x1="10.90" y1="147.55" x2="223.60" y2="147.55" stroke="rgba(255,255,255,0.12)" stroke-width="0.7"/>
<line x1="145.24" y1="13.00" x2="145.24" y2="245.40" stroke="rgba(255,255,255,0.12)" stroke-width="0.7"/>
<line x1="10.90" y1="159.78" x2="223.60" y2="159.78" stroke="rgba(255,255,255,0.12)" stroke-width="0.7"/>
<line x1="156.43" y1="13.00" x2="156.43" y2="245.40" stroke="rgba(255,255,255,0.12)" stroke-width="0.7"/>
<line x1="10.90" y1="172.01" x2="223.60" y2="172.01" stroke="rgba(255,255,255,0.12)" stroke-width="0.7"/>
<line x1="167.63" y1="13.00" x2="167.63" y2="245.40" stroke="rgba(255,255,255,0.12)" stroke-width="0.7"/>
<line x1="10.90" y1="184.24" x2="223.60" y2="184.24" stroke="rgba(255,255,255,0.12)" stroke-width="0.7"/>
<line x1="178.82" y1="13.00" x2="178.82" y2="245.40" stroke="rgba(255,255,255,0.12)" stroke-width="0.7"/>
<line x1="10.90" y1="196.47" x2="223.60" y2="196.47" stroke="rgba(255,255,255,0.12)" stroke-width="0.7"/>
<line x1="190.02" y1="13.00" x2="190.02" y2="245.40" stroke="rgba(255,255,255,0.12)" stroke-width="0.7"/>
<line x1="10.90" y1="208.71" x2="223.60" y2="208.71" stroke="rgba(255,255,255,0.12)" stroke-width="0.7"/>
<line x1="201.21" y1="13.00" x2="201.21" y2="245.40" stroke="rgba(255,255,255,0.12)" stroke-width="0.7"/>
<line x1="10.90" y1="220.94" x2="223.60" y2="220.94" stroke="rgba(255,255,255,0.12)" stroke-width="0.7"/>
<line x1="212.41" y1="13.00" x2="212.41" y2="245.40" stroke="rgba(255,255,255,0.12)" stroke-width="0.7"/>
<line x1="10.90" y1="233.17" x2="223.60" y2="233.17" stroke="rgba(255,255,255,0.12)" stroke-width="0.7"/>
<text x="16.50" y="20.67" font-size="4.3" text-anchor="middle" font-weight="bold" fill="rgba(125,50,20,0.75)" class="c">1</text>
<text x="27.69" y="20.67" font-size="4.3" text-anchor="middle" font-weight="bold" fill="rgba(125,50,20,0.75)" class="c">0.99</text>
<text x="38.89" y="20.67" font-size="4.3" text-anchor="middle" font-weight="bold" fill="rgba(125,50,20,0.75)" class="c">0.99</text>
<text x="50.08" y="20.67" font-size="4.3" text-anchor="middle" font-weight="bold" fill="rgba(30,40,90,0.65)" class="c">0.85</text>
<text x="61.28" y="20.67" font-size="4.3" text-anchor="middle" font-weight="bold" fill="rgba(30,40,90,0.65)" class="c">0.85</text>
<text x="72.47" y="20.67" font-size="4.3" text-anchor="middle" font-weight="bold" fill="rgba(30,40,90,0.65)" class="c">0.85</text>
<text x="83.67" y="20.67" font-size="4.3" text-anchor="middle" font-weight="bold" fill="rgba(30,40,90,0.65)" class="c">0.85</text>
<text x="94.86" y="20.67" font-size="4.3" text-anchor="middle" font-weight="bold" fill="rgba(30,40,90,0.65)" class="c">0.85</text>
<text x="106.06" y="20.67" font-size="4.3" text-anchor="middle" font-weight="bold" fill="rgba(30,40,90,0.65)" class="c">0.85</text>
<text x="117.25" y="20.67" font-size="4.3" text-anchor="middle" font-weight="bold" fill="rgba(30,40,90,0.65)" class="c">0.85</text>
<text x="128.44" y="20.67" font-size="4.3" text-anchor="middle" font-weight="bold" fill="rgba(30,40,90,0.65)" class="c">0.85</text>
<text x="139.64" y="20.67" font-size="4.3" text-anchor="middle" font-weight="bold" fill="rgba(30,40,90,0.65)" class="c">0.85</text>
<text x="150.83" y="20.67" font-size="4.3" text-anchor="middle" font-weight="bold" fill="rgba(30,40,90,0.65)" class="c">0.85</text>
<text x="162.03" y="20.67" font-size="4.3" text-anchor="middle" font-weight="bold" fill="rgba(30,40,90,0.65)" class="c">0.85</text>
<text x="173.22" y="20.67" font-size="4.3" text-anchor="middle" font-weight="bold" fill="rgba(30,40,90,0.65)" class="c">0.85</text>
<text x="184.42" y="20.67" font-size="4.3" text-anchor="middle" font-weight="bold" fill="rgba(30,40,90,0.65)" class="c">0.85</text>
<text x="195.61" y="20.67" font-size="4.3" text-anchor="middle" font-weight="bold" fill="rgba(30,40,90,0.65)" class="c">0.85</text>
<text x="206.81" y="20.67" font-size="4.3" text-anchor="middle" font-weight="bold" fill="rgba(30,40,90,0.65)" class="c">0.85</text>
<text x="218.00" y="20.67" font-size="4.3" text-anchor="middle" font-weight="bold" fill="rgba(30,40,90,0.65)" class="c">0.85</text>
<text x="16.50" y="32.90" font-size="4.3" text-anchor="middle" font-weight="bold" fill="rgba(125,50,20,0.75)" class="c">0.99</text>
<text x="27.69" y="32.90" font-size="4.3" text-anchor="middle" font-weight="bold" fill="rgba(125,50,20,0.75)" class="c">1</text>
<text x="38.89" y="32.90" font-size="4.3" text-anchor="middle" font-weight="bold" fill="rgba(125,50,20,0.75)" class="c">0.99</text>
<text x="50.08" y="32.90" font-size="4.3" text-anchor="middle" font-weight="bold" fill="rgba(30,40,90,0.65)" class="c">0.85</text>
<text x="61.28" y="32.90" font-size="4.3" text-anchor="middle" font-weight="bold" fill="rgba(30,40,90,0.65)" class="c">0.85</text>
<text x="72.47" y="32.90" font-size="4.3" text-anchor="middle" font-weight="bold" fill="rgba(30,40,90,0.65)" class="c">0.85</text>
<text x="83.67" y="32.90" font-size="4.3" text-anchor="middle" font-weight="bold" fill="rgba(30,40,90,0.65)" class="c">0.85</text>
<text x="94.86" y="32.90" font-size="4.3" text-anchor="middle" font-weight="bold" fill="rgba(30,40,90,0.65)" class="c">0.85</text>
<text x="106.06" y="32.90" font-size="4.3" text-anchor="middle" font-weight="bold" fill="rgba(30,40,90,0.65)" class="c">0.85</text>
<text x="117.25" y="32.90" font-size="4.3" text-anchor="middle" font-weight="bold" fill="rgba(30,40,90,0.65)" class="c">0.85</text>
<text x="128.44" y="32.90" font-size="4.3" text-anchor="middle" font-weight="bold" fill="rgba(30,40,90,0.65)" class="c">0.85</text>
<text x="139.64" y="32.90" font-size="4.3" text-anchor="middle" font-weight="bold" fill="rgba(30,40,90,0.65)" class="c">0.85</text>
<text x="150.83" y="32.90" font-size="4.3" text-anchor="middle" font-weight="bold" fill="rgba(30,40,90,0.65)" class="c">0.85</text>
<text x="162.03" y="32.90" font-size="4.3" text-anchor="middle" font-weight="bold" fill="rgba(30,40,90,0.65)" class="c">0.85</text>
<text x="173.22" y="32.90" font-size="4.3" text-anchor="middle" font-weight="bold" fill="rgba(30,40,90,0.65)" class="c">0.85</text>
<text x="184.42" y="32.90" font-size="4.3" text-anchor="middle" font-weight="bold" fill="rgba(30,40,90,0.65)" class="c">0.85</text>
<text x="195.61" y="32.90" font-size="4.3" text-anchor="middle" font-weight="bold" fill="rgba(30,40,90,0.65)" class="c">0.85</text>
<text x="206.81" y="32.90" font-size="4.3" text-anchor="middle" font-weight="bold" fill="rgba(30,40,90,0.65)" class="c">0.85</text>
<text x="218.00" y="32.90" font-size="4.3" text-anchor="middle" font-weight="bold" fill="rgba(30,40,90,0.65)" class="c">0.85</text>
<text x="16.50" y="45.13" font-size="4.3" text-anchor="middle" font-weight="bold" fill="rgba(125,50,20,0.75)" class="c">0.99</text>
<text x="27.69" y="45.13" font-size="4.3" text-anchor="middle" font-weight="bold" fill="rgba(125,50,20,0.75)" class="c">0.99</text>
<text x="38.89" y="45.13" font-size="4.3" text-anchor="middle" font-weight="bold" fill="rgba(125,50,20,0.75)" class="c">1</text>
<text x="50.08" y="45.13" font-size="4.3" text-anchor="middle" font-weight="bold" fill="rgba(30,40,90,0.65)" class="c">0.85</text>
<text x="61.28" y="45.13" font-size="4.3" text-anchor="middle" font-weight="bold" fill="rgba(30,40,90,0.65)" class="c">0.85</text>
<text x="72.47" y="45.13" font-size="4.3" text-anchor="middle" font-weight="bold" fill="rgba(30,40,90,0.65)" class="c">0.85</text>
<text x="83.67" y="45.13" font-size="4.3" text-anchor="middle" font-weight="bold" fill="rgba(30,40,90,0.65)" class="c">0.85</text>
<text x="94.86" y="45.13" font-size="4.3" text-anchor="middle" font-weight="bold" fill="rgba(30,40,90,0.65)" class="c">0.85</text>
<text x="106.06" y="45.13" font-size="4.3" text-anchor="middle" font-weight="bold" fill="rgba(30,40,90,0.65)" class="c">0.85</text>
<text x="117.25" y="45.13" font-size="4.3" text-anchor="middle" font-weight="bold" fill="rgba(30,40,90,0.65)" class="c">0.85</text>
<text x="128.44" y="45.13" font-size="4.3" text-anchor="middle" font-weight="bold" fill="rgba(30,40,90,0.65)" class="c">0.85</text>
<text x="139.64" y="45.13" font-size="4.3" text-anchor="middle" font-weight="bold" fill="rgba(30,40,90,0.65)" class="c">0.85</text>
<text x="150.83" y="45.13" font-size="4.3" text-anchor="middle" font-weight="bold" fill="rgba(30,40,90,0.65)" class="c">0.85</text>
<text x="162.03" y="45.13" font-size="4.3" text-anchor="middle" font-weight="bold" fill="rgba(30,40,90,0.65)" class="c">0.85</text>
<text x="173.22" y="45.13" font-size="4.3" text-anchor="middle" font-weight="bold" fill="rgba(30,40,90,0.65)" class="c">0.85</text>
<text x="184.42" y="45.13" font-size="4.3" text-anchor="middle" font-weight="bold" fill="rgba(30,40,90,0.65)" class="c">0.85</text>
<text x="195.61" y="45.13" font-size="4.3" text-anchor="middle" font-weight="bold" fill="rgba(30,40,90,0.65)" class="c">0.85</text>
<text x="206.81" y="45.13" font-size="4.3" text-anchor="middle" font-weight="bold" fill="rgba(30,40,90,0.65)" class="c">0.85</text>
<text x="218.00" y="45.13" font-size="4.3" text-anchor="middle" font-weight="bold" fill="rgba(30,40,90,0.65)" class="c">0.85</text>
<text x="16.50" y="57.36" font-size="4.3" text-anchor="middle" font-weight="bold" fill="rgba(30,40,90,0.65)" class="c">0.85</text>
<text x="27.69" y="57.36" font-size="4.3" text-anchor="middle" font-weight="bold" fill="rgba(30,40,90,0.65)" class="c">0.85</text>
<text x="38.89" y="57.36" font-size="4.3" text-anchor="middle" font-weight="bold" fill="rgba(30,40,90,0.65)" class="c">0.85</text>
<text x="50.08" y="57.36" font-size="4.3" text-anchor="middle" font-weight="bold" fill="rgba(125,50,20,0.75)" class="c">1</text>
<text x="61.28" y="57.36" font-size="4.3" text-anchor="middle" font-weight="bold" fill="rgba(125,50,20,0.75)" class="c">0.98</text>
<text x="72.47" y="57.36" font-size="4.3" text-anchor="middle" font-weight="bold" fill="rgba(125,50,20,0.75)" class="c">0.98</text>
<text x="83.67" y="57.36" font-size="4.3" text-anchor="middle" font-weight="bold" fill="rgba(125,50,20,0.75)" class="c">0.98</text>
<text x="94.86" y="57.36" font-size="4.3" text-anchor="middle" font-weight="bold" fill="rgba(125,50,20,0.75)" class="c">0.98</text>
<text x="106.06" y="57.36" font-size="4.3" text-anchor="middle" font-weight="bold" fill="rgba(125,50,20,0.75)" class="c">0.98</text>
<text x="117.25" y="57.36" font-size="4.3" text-anchor="middle" font-weight="bold" fill="rgba(125,50,20,0.75)" class="c">0.98</text>
<text x="128.44" y="57.36" font-size="4.3" text-anchor="middle" font-weight="bold" fill="rgba(125,50,20,0.75)" class="c">0.98</text>
<text x="139.64" y="57.36" font-size="4.3" text-anchor="middle" font-weight="bold" fill="rgba(125,50,20,0.75)" class="c">0.98</text>
<text x="150.83" y="57.36" font-size="4.3" text-anchor="middle" font-weight="bold" fill="rgba(125,50,20,0.75)" class="c">0.98</text>
<text x="162.03" y="57.36" font-size="4.3" text-anchor="middle" font-weight="bold" fill="rgba(125,50,20,0.75)" class="c">0.98</text>
<text x="173.22" y="57.36" font-size="4.3" text-anchor="middle" font-weight="bold" fill="rgba(125,50,20,0.75)" class="c">0.98</text>
<text x="184.42" y="57.36" font-size="4.3" text-anchor="middle" font-weight="bold" fill="rgba(125,50,20,0.75)" class="c">0.98</text>
<text x="195.61" y="57.36" font-size="4.3" text-anchor="middle" font-weight="bold" fill="rgba(125,50,20,0.75)" class="c">0.98</text>
<text x="206.81" y="57.36" font-size="4.3" text-anchor="middle" font-weight="bold" fill="rgba(125,50,20,0.75)" class="c">0.98</text>
<text x="218.00" y="57.36" font-size="4.3" text-anchor="middle" font-weight="bold" fill="rgba(125,50,20,0.75)" class="c">0.98</text>
<text x="16.50" y="69.59" font-size="4.3" text-anchor="middle" font-weight="bold" fill="rgba(30,40,90,0.65)" class="c">0.85</text>
<text x="27.69" y="69.59" font-size="4.3" text-anchor="middle" font-weight="bold" fill="rgba(30,40,90,0.65)" class="c">0.85</text>
<text x="38.89" y="69.59" font-size="4.3" text-anchor="middle" font-weight="bold" fill="rgba(30,40,90,0.65)" class="c">0.85</text>
<text x="50.08" y="69.59" font-size="4.3" text-anchor="middle" font-weight="bold" fill="rgba(125,50,20,0.75)" class="c">0.98</text>
<text x="61.28" y="69.59" font-size="4.3" text-anchor="middle" font-weight="bold" fill="rgba(125,50,20,0.75)" class="c">1</text>
<text x="72.47" y="69.59" font-size="4.3" text-anchor="middle" font-weight="bold" fill="rgba(125,50,20,0.75)" class="c">0.98</text>
<text x="83.67" y="69.59" font-size="4.3" text-anchor="middle" font-weight="bold" fill="rgba(125,50,20,0.75)" class="c">0.98</text>
<text x="94.86" y="69.59" font-size="4.3" text-anchor="middle" font-weight="bold" fill="rgba(125,50,20,0.75)" class="c">0.98</text>
<text x="106.06" y="69.59" font-size="4.3" text-anchor="middle" font-weight="bold" fill="rgba(125,50,20,0.75)" class="c">0.98</text>
<text x="117.25" y="69.59" font-size="4.3" text-anchor="middle" font-weight="bold" fill="rgba(125,50,20,0.75)" class="c">0.98</text>
<text x="128.44" y="69.59" font-size="4.3" text-anchor="middle" font-weight="bold" fill="rgba(125,50,20,0.75)" class="c">0.98</text>
<text x="139.64" y="69.59" font-size="4.3" text-anchor="middle" font-weight="bold" fill="rgba(125,50,20,0.75)" class="c">0.98</text>
<text x="150.83" y="69.59" font-size="4.3" text-anchor="middle" font-weight="bold" fill="rgba(125,50,20,0.75)" class="c">0.98</text>
<text x="162.03" y="69.59" font-size="4.3" text-anchor="middle" font-weight="bold" fill="rgba(125,50,20,0.75)" class="c">0.98</text>
<text x="173.22" y="69.59" font-size="4.3" text-anchor="middle" font-weight="bold" fill="rgba(125,50,20,0.75)" class="c">0.98</text>
<text x="184.42" y="69.59" font-size="4.3" text-anchor="middle" font-weight="bold" fill="rgba(125,50,20,0.75)" class="c">0.98</text>
<text x="195.61" y="69.59" font-size="4.3" text-anchor="middle" font-weight="bold" fill="rgba(125,50,20,0.75)" class="c">0.98</text>
<text x="206.81" y="69.59" font-size="4.3" text-anchor="middle" font-weight="bold" fill="rgba(125,50,20,0.75)" class="c">0.98</text>
<text x="218.00" y="69.59" font-size="4.3" text-anchor="middle" font-weight="bold" fill="rgba(125,50,20,0.75)" class="c">0.98</text>
<text x="16.50" y="81.82" font-size="4.3" text-anchor="middle" font-weight="bold" fill="rgba(30,40,90,0.65)" class="c">0.85</text>
<text x="27.69" y="81.82" font-size="4.3" text-anchor="middle" font-weight="bold" fill="rgba(30,40,90,0.65)" class="c">0.85</text>
<text x="38.89" y="81.82" font-size="4.3" text-anchor="middle" font-weight="bold" fill="rgba(30,40,90,0.65)" class="c">0.85</text>
<text x="50.08" y="81.82" font-size="4.3" text-anchor="middle" font-weight="bold" fill="rgba(125,50,20,0.75)" class="c">0.98</text>
<text x="61.28" y="81.82" font-size="4.3" text-anchor="middle" font-weight="bold" fill="rgba(125,50,20,0.75)" class="c">0.98</text>
<text x="72.47" y="81.82" font-size="4.3" text-anchor="middle" font-weight="bold" fill="rgba(125,50,20,0.75)" class="c">1</text>
<text x="83.67" y="81.82" font-size="4.3" text-anchor="middle" font-weight="bold" fill="rgba(125,50,20,0.75)" class="c">0.98</text>
<text x="94.86" y="81.82" font-size="4.3" text-anchor="middle" font-weight="bold" fill="rgba(125,50,20,0.75)" class="c">0.98</text>
<text x="106.06" y="81.82" font-size="4.3" text-anchor="middle" font-weight="bold" fill="rgba(125,50,20,0.75)" class="c">0.98</text>
<text x="117.25" y="81.82" font-size="4.3" text-anchor="middle" font-weight="bold" fill="rgba(125,50,20,0.75)" class="c">0.98</text>
<text x="128.44" y="81.82" font-size="4.3" text-anchor="middle" font-weight="bold" fill="rgba(125,50,20,0.75)" class="c">0.98</text>
<text x="139.64" y="81.82" font-size="4.3" text-anchor="middle" font-weight="bold" fill="rgba(125,50,20,0.75)" class="c">0.98</text>
<text x="150.83" y="81.82" font-size="4.3" text-anchor="middle" font-weight="bold" fill="rgba(125,50,20,0.75)" class="c">0.98</text>
<text x="162.03" y="81.82" font-size="4.3" text-anchor="middle" font-weight="bold" fill="rgba(125,50,20,0.75)" class="c">0.98</text>
<text x="173.22" y="81.82" font-size="4.3" text-anchor="middle" font-weight="bold" fill="rgba(125,50,20,0.75)" class="c">0.98</text>
<text x="184.42" y="81.82" font-size="4.3" text-anchor="middle" font-weight="bold" fill="rgba(125,50,20,0.75)" class="c">0.98</text>
<text x="195.61" y="81.82" font-size="4.3" text-anchor="middle" font-weight="bold" fill="rgba(125,50,20,0.75)" class="c">0.98</text>
<text x="206.81" y="81.82" font-size="4.3" text-anchor="middle" font-weight="bold" fill="rgba(125,50,20,0.75)" class="c">0.98</text>
<text x="218.00" y="81.82" font-size="4.3" text-anchor="middle" font-weight="bold" fill="rgba(125,50,20,0.75)" class="c">0.98</text>
<text x="16.50" y="94.06" font-size="4.3" text-anchor="middle" font-weight="bold" fill="rgba(30,40,90,0.65)" class="c">0.85</text>
<text x="27.69" y="94.06" font-size="4.3" text-anchor="middle" font-weight="bold" fill="rgba(30,40,90,0.65)" class="c">0.85</text>
<text x="38.89" y="94.06" font-size="4.3" text-anchor="middle" font-weight="bold" fill="rgba(30,40,90,0.65)" class="c">0.85</text>
<text x="50.08" y="94.06" font-size="4.3" text-anchor="middle" font-weight="bold" fill="rgba(125,50,20,0.75)" class="c">0.98</text>
<text x="61.28" y="94.06" font-size="4.3" text-anchor="middle" font-weight="bold" fill="rgba(125,50,20,0.75)" class="c">0.98</text>
<text x="72.47" y="94.06" font-size="4.3" text-anchor="middle" font-weight="bold" fill="rgba(125,50,20,0.75)" class="c">0.98</text>
<text x="83.67" y="94.06" font-size="4.3" text-anchor="middle" font-weight="bold" fill="rgba(125,50,20,0.75)" class="c">1</text>
<text x="94.86" y="94.06" font-size="4.3" text-anchor="middle" font-weight="bold" fill="rgba(125,50,20,0.75)" class="c">0.98</text>
<text x="106.06" y="94.06" font-size="4.3" text-anchor="middle" font-weight="bold" fill="rgba(125,50,20,0.75)" class="c">0.98</text>
<text x="117.25" y="94.06" font-size="4.3" text-anchor="middle" font-weight="bold" fill="rgba(125,50,20,0.75)" class="c">0.98</text>
<text x="128.44" y="94.06" font-size="4.3" text-anchor="middle" font-weight="bold" fill="rgba(125,50,20,0.75)" class="c">0.98</text>
<text x="139.64" y="94.06" font-size="4.3" text-anchor="middle" font-weight="bold" fill="rgba(125,50,20,0.75)" class="c">0.98</text>
<text x="150.83" y="94.06" font-size="4.3" text-anchor="middle" font-weight="bold" fill="rgba(125,50,20,0.75)" class="c">0.98</text>
<text x="162.03" y="94.06" font-size="4.3" text-anchor="middle" font-weight="bold" fill="rgba(125,50,20,0.75)" class="c">0.98</text>
<text x="173.22" y="94.06" font-size="4.3" text-anchor="middle" font-weight="bold" fill="rgba(125,50,20,0.75)" class="c">0.98</text>
<text x="184.42" y="94.06" font-size="4.3" text-anchor="middle" font-weight="bold" fill="rgba(125,50,20,0.75)" class="c">0.98</text>
<text x="195.61" y="94.06" font-size="4.3" text-anchor="middle" font-weight="bold" fill="rgba(125,50,20,0.75)" class="c">0.98</text>
<text x="206.81" y="94.06" font-size="4.3" text-anchor="middle" font-weight="bold" fill="rgba(125,50,20,0.75)" class="c">0.98</text>
<text x="218.00" y="94.06" font-size="4.3" text-anchor="middle" font-weight="bold" fill="rgba(125,50,20,0.75)" class="c">0.98</text>
<text x="16.50" y="106.29" font-size="4.3" text-anchor="middle" font-weight="bold" fill="rgba(30,40,90,0.65)" class="c">0.85</text>
<text x="27.69" y="106.29" font-size="4.3" text-anchor="middle" font-weight="bold" fill="rgba(30,40,90,0.65)" class="c">0.85</text>
<text x="38.89" y="106.29" font-size="4.3" text-anchor="middle" font-weight="bold" fill="rgba(30,40,90,0.65)" class="c">0.85</text>
<text x="50.08" y="106.29" font-size="4.3" text-anchor="middle" font-weight="bold" fill="rgba(125,50,20,0.75)" class="c">0.98</text>
<text x="61.28" y="106.29" font-size="4.3" text-anchor="middle" font-weight="bold" fill="rgba(125,50,20,0.75)" class="c">0.98</text>
<text x="72.47" y="106.29" font-size="4.3" text-anchor="middle" font-weight="bold" fill="rgba(125,50,20,0.75)" class="c">0.98</text>
<text x="83.67" y="106.29" font-size="4.3" text-anchor="middle" font-weight="bold" fill="rgba(125,50,20,0.75)" class="c">0.98</text>
<text x="94.86" y="106.29" font-size="4.3" text-anchor="middle" font-weight="bold" fill="rgba(125,50,20,0.75)" class="c">1</text>
<text x="106.06" y="106.29" font-size="4.3" text-anchor="middle" font-weight="bold" fill="rgba(125,50,20,0.75)" class="c">0.98</text>
<text x="117.25" y="106.29" font-size="4.3" text-anchor="middle" font-weight="bold" fill="rgba(125,50,20,0.75)" class="c">0.98</text>
<text x="128.44" y="106.29" font-size="4.3" text-anchor="middle" font-weight="bold" fill="rgba(125,50,20,0.75)" class="c">0.98</text>
<text x="139.64" y="106.29" font-size="4.3" text-anchor="middle" font-weight="bold" fill="rgba(125,50,20,0.75)" class="c">0.98</text>
<text x="150.83" y="106.29" font-size="4.3" text-anchor="middle" font-weight="bold" fill="rgba(125,50,20,0.75)" class="c">0.98</text>
<text x="162.03" y="106.29" font-size="4.3" text-anchor="middle" font-weight="bold" fill="rgba(125,50,20,0.75)" class="c">0.98</text>
<text x="173.22" y="106.29" font-size="4.3" text-anchor="middle" font-weight="bold" fill="rgba(125,50,20,0.75)" class="c">0.98</text>
<text x="184.42" y="106.29" font-size="4.3" text-anchor="middle" font-weight="bold" fill="rgba(125,50,20,0.75)" class="c">0.98</text>
<text x="195.61" y="106.29" font-size="4.3" text-anchor="middle" font-weight="bold" fill="rgba(125,50,20,0.75)" class="c">0.98</text>
<text x="206.81" y="106.29" font-size="4.3" text-anchor="middle" font-weight="bold" fill="rgba(125,50,20,0.75)" class="c">0.98</text>
<text x="218.00" y="106.29" font-size="4.3" text-anchor="middle" font-weight="bold" fill="rgba(125,50,20,0.75)" class="c">0.98</text>
<text x="16.50" y="118.52" font-size="4.3" text-anchor="middle" font-weight="bold" fill="rgba(30,40,90,0.65)" class="c">0.85</text>
<text x="27.69" y="118.52" font-size="4.3" text-anchor="middle" font-weight="bold" fill="rgba(30,40,90,0.65)" class="c">0.85</text>
<text x="38.89" y="118.52" font-size="4.3" text-anchor="middle" font-weight="bold" fill="rgba(30,40,90,0.65)" class="c">0.85</text>
<text x="50.08" y="118.52" font-size="4.3" text-anchor="middle" font-weight="bold" fill="rgba(125,50,20,0.75)" class="c">0.98</text>
<text x="61.28" y="118.52" font-size="4.3" text-anchor="middle" font-weight="bold" fill="rgba(125,50,20,0.75)" class="c">0.98</text>
<text x="72.47" y="118.52" font-size="4.3" text-anchor="middle" font-weight="bold" fill="rgba(125,50,20,0.75)" class="c">0.98</text>
<text x="83.67" y="118.52" font-size="4.3" text-anchor="middle" font-weight="bold" fill="rgba(125,50,20,0.75)" class="c">0.98</text>
<text x="94.86" y="118.52" font-size="4.3" text-anchor="middle" font-weight="bold" fill="rgba(125,50,20,0.75)" class="c">0.98</text>
<text x="106.06" y="118.52" font-size="4.3" text-anchor="middle" font-weight="bold" fill="rgba(125,50,20,0.75)" class="c">1</text>
<text x="117.25" y="118.52" font-size="4.3" text-anchor="middle" font-weight="bold" fill="rgba(125,50,20,0.75)" class="c">0.98</text>
<text x="128.44" y="118.52" font-size="4.3" text-anchor="middle" font-weight="bold" fill="rgba(125,50,20,0.75)" class="c">0.98</text>
<text x="139.64" y="118.52" font-size="4.3" text-anchor="middle" font-weight="bold" fill="rgba(125,50,20,0.75)" class="c">0.98</text>
<text x="150.83" y="118.52" font-size="4.3" text-anchor="middle" font-weight="bold" fill="rgba(125,50,20,0.75)" class="c">0.98</text>
<text x="162.03" y="118.52" font-size="4.3" text-anchor="middle" font-weight="bold" fill="rgba(125,50,20,0.75)" class="c">0.98</text>
<text x="173.22" y="118.52" font-size="4.3" text-anchor="middle" font-weight="bold" fill="rgba(125,50,20,0.75)" class="c">0.98</text>
<text x="184.42" y="118.52" font-size="4.3" text-anchor="middle" font-weight="bold" fill="rgba(125,50,20,0.75)" class="c">0.98</text>
<text x="195.61" y="118.52" font-size="4.3" text-anchor="middle" font-weight="bold" fill="rgba(125,50,20,0.75)" class="c">0.98</text>
<text x="206.81" y="118.52" font-size="4.3" text-anchor="middle" font-weight="bold" fill="rgba(125,50,20,0.75)" class="c">0.98</text>
<text x="218.00" y="118.52" font-size="4.3" text-anchor="middle" font-weight="bold" fill="rgba(125,50,20,0.75)" class="c">0.98</text>
<text x="16.50" y="130.75" font-size="4.3" text-anchor="middle" font-weight="bold" fill="rgba(30,40,90,0.65)" class="c">0.85</text>
<text x="27.69" y="130.75" font-size="4.3" text-anchor="middle" font-weight="bold" fill="rgba(30,40,90,0.65)" class="c">0.85</text>
<text x="38.89" y="130.75" font-size="4.3" text-anchor="middle" font-weight="bold" fill="rgba(30,40,90,0.65)" class="c">0.85</text>
<text x="50.08" y="130.75" font-size="4.3" text-anchor="middle" font-weight="bold" fill="rgba(125,50,20,0.75)" class="c">0.98</text>
<text x="61.28" y="130.75" font-size="4.3" text-anchor="middle" font-weight="bold" fill="rgba(125,50,20,0.75)" class="c">0.98</text>
<text x="72.47" y="130.75" font-size="4.3" text-anchor="middle" font-weight="bold" fill="rgba(125,50,20,0.75)" class="c">0.98</text>
<text x="83.67" y="130.75" font-size="4.3" text-anchor="middle" font-weight="bold" fill="rgba(125,50,20,0.75)" class="c">0.98</text>
<text x="94.86" y="130.75" font-size="4.3" text-anchor="middle" font-weight="bold" fill="rgba(125,50,20,0.75)" class="c">0.98</text>
<text x="106.06" y="130.75" font-size="4.3" text-anchor="middle" font-weight="bold" fill="rgba(125,50,20,0.75)" class="c">0.98</text>
<text x="117.25" y="130.75" font-size="4.3" text-anchor="middle" font-weight="bold" fill="rgba(125,50,20,0.75)" class="c">1</text>
<text x="128.44" y="130.75" font-size="4.3" text-anchor="middle" font-weight="bold" fill="rgba(125,50,20,0.75)" class="c">0.98</text>
<text x="139.64" y="130.75" font-size="4.3" text-anchor="middle" font-weight="bold" fill="rgba(125,50,20,0.75)" class="c">0.98</text>
<text x="150.83" y="130.75" font-size="4.3" text-anchor="middle" font-weight="bold" fill="rgba(125,50,20,0.75)" class="c">0.98</text>
<text x="162.03" y="130.75" font-size="4.3" text-anchor="middle" font-weight="bold" fill="rgba(125,50,20,0.75)" class="c">0.98</text>
<text x="173.22" y="130.75" font-size="4.3" text-anchor="middle" font-weight="bold" fill="rgba(125,50,20,0.75)" class="c">0.98</text>
<text x="184.42" y="130.75" font-size="4.3" text-anchor="middle" font-weight="bold" fill="rgba(125,50,20,0.75)" class="c">0.98</text>
<text x="195.61" y="130.75" font-size="4.3" text-anchor="middle" font-weight="bold" fill="rgba(125,50,20,0.75)" class="c">0.98</text>
<text x="206.81" y="130.75" font-size="4.3" text-anchor="middle" font-weight="bold" fill="rgba(125,50,20,0.75)" class="c">0.98</text>
<text x="218.00" y="130.75" font-size="4.3" text-anchor="middle" font-weight="bold" fill="rgba(125,50,20,0.75)" class="c">0.98</text>
<text x="16.50" y="142.98" font-size="4.3" text-anchor="middle" font-weight="bold" fill="rgba(30,40,90,0.65)" class="c">0.85</text>
<text x="27.69" y="142.98" font-size="4.3" text-anchor="middle" font-weight="bold" fill="rgba(30,40,90,0.65)" class="c">0.85</text>
<text x="38.89" y="142.98" font-size="4.3" text-anchor="middle" font-weight="bold" fill="rgba(30,40,90,0.65)" class="c">0.85</text>
<text x="50.08" y="142.98" font-size="4.3" text-anchor="middle" font-weight="bold" fill="rgba(125,50,20,0.75)" class="c">0.98</text>
<text x="61.28" y="142.98" font-size="4.3" text-anchor="middle" font-weight="bold" fill="rgba(125,50,20,0.75)" class="c">0.98</text>
<text x="72.47" y="142.98" font-size="4.3" text-anchor="middle" font-weight="bold" fill="rgba(125,50,20,0.75)" class="c">0.98</text>
<text x="83.67" y="142.98" font-size="4.3" text-anchor="middle" font-weight="bold" fill="rgba(125,50,20,0.75)" class="c">0.98</text>
<text x="94.86" y="142.98" font-size="4.3" text-anchor="middle" font-weight="bold" fill="rgba(125,50,20,0.75)" class="c">0.98</text>
<text x="106.06" y="142.98" font-size="4.3" text-anchor="middle" font-weight="bold" fill="rgba(125,50,20,0.75)" class="c">0.98</text>
<text x="117.25" y="142.98" font-size="4.3" text-anchor="middle" font-weight="bold" fill="rgba(125,50,20,0.75)" class="c">0.98</text>
<text x="128.44" y="142.98" font-size="4.3" text-anchor="middle" font-weight="bold" fill="rgba(125,50,20,0.75)" class="c">1</text>
<text x="139.64" y="142.98" font-size="4.3" text-anchor="middle" font-weight="bold" fill="rgba(125,50,20,0.75)" class="c">0.98</text>
<text x="150.83" y="142.98" font-size="4.3" text-anchor="middle" font-weight="bold" fill="rgba(125,50,20,0.75)" class="c">0.98</text>
<text x="162.03" y="142.98" font-size="4.3" text-anchor="middle" font-weight="bold" fill="rgba(125,50,20,0.75)" class="c">0.98</text>
<text x="173.22" y="142.98" font-size="4.3" text-anchor="middle" font-weight="bold" fill="rgba(125,50,20,0.75)" class="c">0.98</text>
<text x="184.42" y="142.98" font-size="4.3" text-anchor="middle" font-weight="bold" fill="rgba(125,50,20,0.75)" class="c">0.98</text>
<text x="195.61" y="142.98" font-size="4.3" text-anchor="middle" font-weight="bold" fill="rgba(125,50,20,0.75)" class="c">0.98</text>
<text x="206.81" y="142.98" font-size="4.3" text-anchor="middle" font-weight="bold" fill="rgba(125,50,20,0.75)" class="c">0.98</text>
<text x="218.00" y="142.98" font-size="4.3" text-anchor="middle" font-weight="bold" fill="rgba(125,50,20,0.75)" class="c">0.98</text>
<text x="16.50" y="155.21" font-size="4.3" text-anchor="middle" font-weight="bold" fill="rgba(30,40,90,0.65)" class="c">0.85</text>
<text x="27.69" y="155.21" font-size="4.3" text-anchor="middle" font-weight="bold" fill="rgba(30,40,90,0.65)" class="c">0.85</text>
<text x="38.89" y="155.21" font-size="4.3" text-anchor="middle" font-weight="bold" fill="rgba(30,40,90,0.65)" class="c">0.85</text>
<text x="50.08" y="155.21" font-size="4.3" text-anchor="middle" font-weight="bold" fill="rgba(125,50,20,0.75)" class="c">0.98</text>
<text x="61.28" y="155.21" font-size="4.3" text-anchor="middle" font-weight="bold" fill="rgba(125,50,20,0.75)" class="c">0.98</text>
<text x="72.47" y="155.21" font-size="4.3" text-anchor="middle" font-weight="bold" fill="rgba(125,50,20,0.75)" class="c">0.98</text>
<text x="83.67" y="155.21" font-size="4.3" text-anchor="middle" font-weight="bold" fill="rgba(125,50,20,0.75)" class="c">0.98</text>
<text x="94.86" y="155.21" font-size="4.3" text-anchor="middle" font-weight="bold" fill="rgba(125,50,20,0.75)" class="c">0.98</text>
<text x="106.06" y="155.21" font-size="4.3" text-anchor="middle" font-weight="bold" fill="rgba(125,50,20,0.75)" class="c">0.98</text>
<text x="117.25" y="155.21" font-size="4.3" text-anchor="middle" font-weight="bold" fill="rgba(125,50,20,0.75)" class="c">0.98</text>
<text x="128.44" y="155.21" font-size="4.3" text-anchor="middle" font-weight="bold" fill="rgba(125,50,20,0.75)" class="c">0.98</text>
<text x="139.64" y="155.21" font-size="4.3" text-anchor="middle" font-weight="bold" fill="rgba(125,50,20,0.75)" class="c">1</text>
<text x="150.83" y="155.21" font-size="4.3" text-anchor="middle" font-weight="bold" fill="rgba(125,50,20,0.75)" class="c">0.98</text>
<text x="162.03" y="155.21" font-size="4.3" text-anchor="middle" font-weight="bold" fill="rgba(125,50,20,0.75)" class="c">0.98</text>
<text x="173.22" y="155.21" font-size="4.3" text-anchor="middle" font-weight="bold" fill="rgba(125,50,20,0.75)" class="c">0.98</text>
<text x="184.42" y="155.21" font-size="4.3" text-anchor="middle" font-weight="bold" fill="rgba(125,50,20,0.75)" class="c">0.98</text>
<text x="195.61" y="155.21" font-size="4.3" text-anchor="middle" font-weight="bold" fill="rgba(125,50,20,0.75)" class="c">0.98</text>
<text x="206.81" y="155.21" font-size="4.3" text-anchor="middle" font-weight="bold" fill="rgba(125,50,20,0.75)" class="c">0.98</text>
<text x="218.00" y="155.21" font-size="4.3" text-anchor="middle" font-weight="bold" fill="rgba(125,50,20,0.75)" class="c">0.98</text>
<text x="16.50" y="167.44" font-size="4.3" text-anchor="middle" font-weight="bold" fill="rgba(30,40,90,0.65)" class="c">0.85</text>
<text x="27.69" y="167.44" font-size="4.3" text-anchor="middle" font-weight="bold" fill="rgba(30,40,90,0.65)" class="c">0.85</text>
<text x="38.89" y="167.44" font-size="4.3" text-anchor="middle" font-weight="bold" fill="rgba(30,40,90,0.65)" class="c">0.85</text>
<text x="50.08" y="167.44" font-size="4.3" text-anchor="middle" font-weight="bold" fill="rgba(125,50,20,0.75)" class="c">0.98</text>
<text x="61.28" y="167.44" font-size="4.3" text-anchor="middle" font-weight="bold" fill="rgba(125,50,20,0.75)" class="c">0.98</text>
<text x="72.47" y="167.44" font-size="4.3" text-anchor="middle" font-weight="bold" fill="rgba(125,50,20,0.75)" class="c">0.98</text>
<text x="83.67" y="167.44" font-size="4.3" text-anchor="middle" font-weight="bold" fill="rgba(125,50,20,0.75)" class="c">0.98</text>
<text x="94.86" y="167.44" font-size="4.3" text-anchor="middle" font-weight="bold" fill="rgba(125,50,20,0.75)" class="c">0.98</text>
<text x="106.06" y="167.44" font-size="4.3" text-anchor="middle" font-weight="bold" fill="rgba(125,50,20,0.75)" class="c">0.98</text>
<text x="117.25" y="167.44" font-size="4.3" text-anchor="middle" font-weight="bold" fill="rgba(125,50,20,0.75)" class="c">0.98</text>
<text x="128.44" y="167.44" font-size="4.3" text-anchor="middle" font-weight="bold" fill="rgba(125,50,20,0.75)" class="c">0.98</text>
<text x="139.64" y="167.44" font-size="4.3" text-anchor="middle" font-weight="bold" fill="rgba(125,50,20,0.75)" class="c">0.98</text>
<text x="150.83" y="167.44" font-size="4.3" text-anchor="middle" font-weight="bold" fill="rgba(125,50,20,0.75)" class="c">1</text>
<text x="162.03" y="167.44" font-size="4.3" text-anchor="middle" font-weight="bold" fill="rgba(125,50,20,0.75)" class="c">0.98</text>
<text x="173.22" y="167.44" font-size="4.3" text-anchor="middle" font-weight="bold" fill="rgba(125,50,20,0.75)" class="c">0.98</text>
<text x="184.42" y="167.44" font-size="4.3" text-anchor="middle" font-weight="bold" fill="rgba(125,50,20,0.75)" class="c">0.98</text>
<text x="195.61" y="167.44" font-size="4.3" text-anchor="middle" font-weight="bold" fill="rgba(125,50,20,0.75)" class="c">0.98</text>
<text x="206.81" y="167.44" font-size="4.3" text-anchor="middle" font-weight="bold" fill="rgba(125,50,20,0.75)" class="c">0.98</text>
<text x="218.00" y="167.44" font-size="4.3" text-anchor="middle" font-weight="bold" fill="rgba(125,50,20,0.75)" class="c">0.98</text>
<text x="16.50" y="179.68" font-size="4.3" text-anchor="middle" font-weight="bold" fill="rgba(30,40,90,0.65)" class="c">0.85</text>
<text x="27.69" y="179.68" font-size="4.3" text-anchor="middle" font-weight="bold" fill="rgba(30,40,90,0.65)" class="c">0.85</text>
<text x="38.89" y="179.68" font-size="4.3" text-anchor="middle" font-weight="bold" fill="rgba(30,40,90,0.65)" class="c">0.85</text>
<text x="50.08" y="179.68" font-size="4.3" text-anchor="middle" font-weight="bold" fill="rgba(125,50,20,0.75)" class="c">0.98</text>
<text x="61.28" y="179.68" font-size="4.3" text-anchor="middle" font-weight="bold" fill="rgba(125,50,20,0.75)" class="c">0.98</text>
<text x="72.47" y="179.68" font-size="4.3" text-anchor="middle" font-weight="bold" fill="rgba(125,50,20,0.75)" class="c">0.98</text>
<text x="83.67" y="179.68" font-size="4.3" text-anchor="middle" font-weight="bold" fill="rgba(125,50,20,0.75)" class="c">0.98</text>
<text x="94.86" y="179.68" font-size="4.3" text-anchor="middle" font-weight="bold" fill="rgba(125,50,20,0.75)" class="c">0.98</text>
<text x="106.06" y="179.68" font-size="4.3" text-anchor="middle" font-weight="bold" fill="rgba(125,50,20,0.75)" class="c">0.98</text>
<text x="117.25" y="179.68" font-size="4.3" text-anchor="middle" font-weight="bold" fill="rgba(125,50,20,0.75)" class="c">0.98</text>
<text x="128.44" y="179.68" font-size="4.3" text-anchor="middle" font-weight="bold" fill="rgba(125,50,20,0.75)" class="c">0.98</text>
<text x="139.64" y="179.68" font-size="4.3" text-anchor="middle" font-weight="bold" fill="rgba(125,50,20,0.75)" class="c">0.98</text>
<text x="150.83" y="179.68" font-size="4.3" text-anchor="middle" font-weight="bold" fill="rgba(125,50,20,0.75)" class="c">0.98</text>
<text x="162.03" y="179.68" font-size="4.3" text-anchor="middle" font-weight="bold" fill="rgba(125,50,20,0.75)" class="c">1</text>
<text x="173.22" y="179.68" font-size="4.3" text-anchor="middle" font-weight="bold" fill="rgba(125,50,20,0.75)" class="c">0.98</text>
<text x="184.42" y="179.68" font-size="4.3" text-anchor="middle" font-weight="bold" fill="rgba(125,50,20,0.75)" class="c">0.98</text>
<text x="195.61" y="179.68" font-size="4.3" text-anchor="middle" font-weight="bold" fill="rgba(125,50,20,0.75)" class="c">0.98</text>
<text x="206.81" y="179.68" font-size="4.3" text-anchor="middle" font-weight="bold" fill="rgba(125,50,20,0.75)" class="c">0.98</text>
<text x="218.00" y="179.68" font-size="4.3" text-anchor="middle" font-weight="bold" fill="rgba(125,50,20,0.75)" class="c">0.98</text>
<text x="16.50" y="191.91" font-size="4.3" text-anchor="middle" font-weight="bold" fill="rgba(30,40,90,0.65)" class="c">0.85</text>
<text x="27.69" y="191.91" font-size="4.3" text-anchor="middle" font-weight="bold" fill="rgba(30,40,90,0.65)" class="c">0.85</text>
<text x="38.89" y="191.91" font-size="4.3" text-anchor="middle" font-weight="bold" fill="rgba(30,40,90,0.65)" class="c">0.85</text>
<text x="50.08" y="191.91" font-size="4.3" text-anchor="middle" font-weight="bold" fill="rgba(125,50,20,0.75)" class="c">0.98</text>
<text x="61.28" y="191.91" font-size="4.3" text-anchor="middle" font-weight="bold" fill="rgba(125,50,20,0.75)" class="c">0.98</text>
<text x="72.47" y="191.91" font-size="4.3" text-anchor="middle" font-weight="bold" fill="rgba(125,50,20,0.75)" class="c">0.98</text>
<text x="83.67" y="191.91" font-size="4.3" text-anchor="middle" font-weight="bold" fill="rgba(125,50,20,0.75)" class="c">0.98</text>
<text x="94.86" y="191.91" font-size="4.3" text-anchor="middle" font-weight="bold" fill="rgba(125,50,20,0.75)" class="c">0.98</text>
<text x="106.06" y="191.91" font-size="4.3" text-anchor="middle" font-weight="bold" fill="rgba(125,50,20,0.75)" class="c">0.98</text>
<text x="117.25" y="191.91" font-size="4.3" text-anchor="middle" font-weight="bold" fill="rgba(125,50,20,0.75)" class="c">0.98</text>
<text x="128.44" y="191.91" font-size="4.3" text-anchor="middle" font-weight="bold" fill="rgba(125,50,20,0.75)" class="c">0.98</text>
<text x="139.64" y="191.91" font-size="4.3" text-anchor="middle" font-weight="bold" fill="rgba(125,50,20,0.75)" class="c">0.98</text>
<text x="150.83" y="191.91" font-size="4.3" text-anchor="middle" font-weight="bold" fill="rgba(125,50,20,0.75)" class="c">0.98</text>
<text x="162.03" y="191.91" font-size="4.3" text-anchor="middle" font-weight="bold" fill="rgba(125,50,20,0.75)" class="c">0.98</text>
<text x="173.22" y="191.91" font-size="4.3" text-anchor="middle" font-weight="bold" fill="rgba(125,50,20,0.75)" class="c">1</text>
<text x="184.42" y="191.91" font-size="4.3" text-anchor="middle" font-weight="bold" fill="rgba(125,50,20,0.75)" class="c">0.98</text>
<text x="195.61" y="191.91" font-size="4.3" text-anchor="middle" font-weight="bold" fill="rgba(125,50,20,0.75)" class="c">0.98</text>
<text x="206.81" y="191.91" font-size="4.3" text-anchor="middle" font-weight="bold" fill="rgba(125,50,20,0.75)" class="c">0.98</text>
<text x="218.00" y="191.91" font-size="4.3" text-anchor="middle" font-weight="bold" fill="rgba(125,50,20,0.75)" class="c">0.98</text>
<text x="16.50" y="204.14" font-size="4.3" text-anchor="middle" font-weight="bold" fill="rgba(30,40,90,0.65)" class="c">0.85</text>
<text x="27.69" y="204.14" font-size="4.3" text-anchor="middle" font-weight="bold" fill="rgba(30,40,90,0.65)" class="c">0.85</text>
<text x="38.89" y="204.14" font-size="4.3" text-anchor="middle" font-weight="bold" fill="rgba(30,40,90,0.65)" class="c">0.85</text>
<text x="50.08" y="204.14" font-size="4.3" text-anchor="middle" font-weight="bold" fill="rgba(125,50,20,0.75)" class="c">0.98</text>
<text x="61.28" y="204.14" font-size="4.3" text-anchor="middle" font-weight="bold" fill="rgba(125,50,20,0.75)" class="c">0.98</text>
<text x="72.47" y="204.14" font-size="4.3" text-anchor="middle" font-weight="bold" fill="rgba(125,50,20,0.75)" class="c">0.98</text>
<text x="83.67" y="204.14" font-size="4.3" text-anchor="middle" font-weight="bold" fill="rgba(125,50,20,0.75)" class="c">0.98</text>
<text x="94.86" y="204.14" font-size="4.3" text-anchor="middle" font-weight="bold" fill="rgba(125,50,20,0.75)" class="c">0.98</text>
<text x="106.06" y="204.14" font-size="4.3" text-anchor="middle" font-weight="bold" fill="rgba(125,50,20,0.75)" class="c">0.98</text>
<text x="117.25" y="204.14" font-size="4.3" text-anchor="middle" font-weight="bold" fill="rgba(125,50,20,0.75)" class="c">0.98</text>
<text x="128.44" y="204.14" font-size="4.3" text-anchor="middle" font-weight="bold" fill="rgba(125,50,20,0.75)" class="c">0.98</text>
<text x="139.64" y="204.14" font-size="4.3" text-anchor="middle" font-weight="bold" fill="rgba(125,50,20,0.75)" class="c">0.98</text>
<text x="150.83" y="204.14" font-size="4.3" text-anchor="middle" font-weight="bold" fill="rgba(125,50,20,0.75)" class="c">0.98</text>
<text x="162.03" y="204.14" font-size="4.3" text-anchor="middle" font-weight="bold" fill="rgba(125,50,20,0.75)" class="c">0.98</text>
<text x="173.22" y="204.14" font-size="4.3" text-anchor="middle" font-weight="bold" fill="rgba(125,50,20,0.75)" class="c">0.98</text>
<text x="184.42" y="204.14" font-size="4.3" text-anchor="middle" font-weight="bold" fill="rgba(125,50,20,0.75)" class="c">1</text>
<text x="195.61" y="204.14" font-size="4.3" text-anchor="middle" font-weight="bold" fill="rgba(125,50,20,0.75)" class="c">0.98</text>
<text x="206.81" y="204.14" font-size="4.3" text-anchor="middle" font-weight="bold" fill="rgba(125,50,20,0.75)" class="c">0.98</text>
<text x="218.00" y="204.14" font-size="4.3" text-anchor="middle" font-weight="bold" fill="rgba(125,50,20,0.75)" class="c">0.98</text>
<text x="16.50" y="216.37" font-size="4.3" text-anchor="middle" font-weight="bold" fill="rgba(30,40,90,0.65)" class="c">0.85</text>
<text x="27.69" y="216.37" font-size="4.3" text-anchor="middle" font-weight="bold" fill="rgba(30,40,90,0.65)" class="c">0.85</text>
<text x="38.89" y="216.37" font-size="4.3" text-anchor="middle" font-weight="bold" fill="rgba(30,40,90,0.65)" class="c">0.85</text>
<text x="50.08" y="216.37" font-size="4.3" text-anchor="middle" font-weight="bold" fill="rgba(125,50,20,0.75)" class="c">0.98</text>
<text x="61.28" y="216.37" font-size="4.3" text-anchor="middle" font-weight="bold" fill="rgba(125,50,20,0.75)" class="c">0.98</text>
<text x="72.47" y="216.37" font-size="4.3" text-anchor="middle" font-weight="bold" fill="rgba(125,50,20,0.75)" class="c">0.98</text>
<text x="83.67" y="216.37" font-size="4.3" text-anchor="middle" font-weight="bold" fill="rgba(125,50,20,0.75)" class="c">0.98</text>
<text x="94.86" y="216.37" font-size="4.3" text-anchor="middle" font-weight="bold" fill="rgba(125,50,20,0.75)" class="c">0.98</text>
<text x="106.06" y="216.37" font-size="4.3" text-anchor="middle" font-weight="bold" fill="rgba(125,50,20,0.75)" class="c">0.98</text>
<text x="117.25" y="216.37" font-size="4.3" text-anchor="middle" font-weight="bold" fill="rgba(125,50,20,0.75)" class="c">0.98</text>
<text x="128.44" y="216.37" font-size="4.3" text-anchor="middle" font-weight="bold" fill="rgba(125,50,20,0.75)" class="c">0.98</text>
<text x="139.64" y="216.37" font-size="4.3" text-anchor="middle" font-weight="bold" fill="rgba(125,50,20,0.75)" class="c">0.98</text>
<text x="150.83" y="216.37" font-size="4.3" text-anchor="middle" font-weight="bold" fill="rgba(125,50,20,0.75)" class="c">0.98</text>
<text x="162.03" y="216.37" font-size="4.3" text-anchor="middle" font-weight="bold" fill="rgba(125,50,20,0.75)" class="c">0.98</text>
<text x="173.22" y="216.37" font-size="4.3" text-anchor="middle" font-weight="bold" fill="rgba(125,50,20,0.75)" class="c">0.98</text>
<text x="184.42" y="216.37" font-size="4.3" text-anchor="middle" font-weight="bold" fill="rgba(125,50,20,0.75)" class="c">0.98</text>
<text x="195.61" y="216.37" font-size="4.3" text-anchor="middle" font-weight="bold" fill="rgba(125,50,20,0.75)" class="c">1</text>
<text x="206.81" y="216.37" font-size="4.3" text-anchor="middle" font-weight="bold" fill="rgba(125,50,20,0.75)" class="c">0.98</text>
<text x="218.00" y="216.37" font-size="4.3" text-anchor="middle" font-weight="bold" fill="rgba(125,50,20,0.75)" class="c">0.98</text>
<text x="16.50" y="228.60" font-size="4.3" text-anchor="middle" font-weight="bold" fill="rgba(30,40,90,0.65)" class="c">0.85</text>
<text x="27.69" y="228.60" font-size="4.3" text-anchor="middle" font-weight="bold" fill="rgba(30,40,90,0.65)" class="c">0.85</text>
<text x="38.89" y="228.60" font-size="4.3" text-anchor="middle" font-weight="bold" fill="rgba(30,40,90,0.65)" class="c">0.85</text>
<text x="50.08" y="228.60" font-size="4.3" text-anchor="middle" font-weight="bold" fill="rgba(125,50,20,0.75)" class="c">0.98</text>
<text x="61.28" y="228.60" font-size="4.3" text-anchor="middle" font-weight="bold" fill="rgba(125,50,20,0.75)" class="c">0.98</text>
<text x="72.47" y="228.60" font-size="4.3" text-anchor="middle" font-weight="bold" fill="rgba(125,50,20,0.75)" class="c">0.98</text>
<text x="83.67" y="228.60" font-size="4.3" text-anchor="middle" font-weight="bold" fill="rgba(125,50,20,0.75)" class="c">0.98</text>
<text x="94.86" y="228.60" font-size="4.3" text-anchor="middle" font-weight="bold" fill="rgba(125,50,20,0.75)" class="c">0.98</text>
<text x="106.06" y="228.60" font-size="4.3" text-anchor="middle" font-weight="bold" fill="rgba(125,50,20,0.75)" class="c">0.98</text>
<text x="117.25" y="228.60" font-size="4.3" text-anchor="middle" font-weight="bold" fill="rgba(125,50,20,0.75)" class="c">0.98</text>
<text x="128.44" y="228.60" font-size="4.3" text-anchor="middle" font-weight="bold" fill="rgba(125,50,20,0.75)" class="c">0.98</text>
<text x="139.64" y="228.60" font-size="4.3" text-anchor="middle" font-weight="bold" fill="rgba(125,50,20,0.75)" class="c">0.98</text>
<text x="150.83" y="228.60" font-size="4.3" text-anchor="middle" font-weight="bold" fill="rgba(125,50,20,0.75)" class="c">0.98</text>
<text x="162.03" y="228.60" font-size="4.3" text-anchor="middle" font-weight="bold" fill="rgba(125,50,20,0.75)" class="c">0.98</text>
<text x="173.22" y="228.60" font-size="4.3" text-anchor="middle" font-weight="bold" fill="rgba(125,50,20,0.75)" class="c">0.98</text>
<text x="184.42" y="228.60" font-size="4.3" text-anchor="middle" font-weight="bold" fill="rgba(125,50,20,0.75)" class="c">0.98</text>
<text x="195.61" y="228.60" font-size="4.3" text-anchor="middle" font-weight="bold" fill="rgba(125,50,20,0.75)" class="c">0.98</text>
<text x="206.81" y="228.60" font-size="4.3" text-anchor="middle" font-weight="bold" fill="rgba(125,50,20,0.75)" class="c">1</text>
<text x="218.00" y="228.60" font-size="4.3" text-anchor="middle" font-weight="bold" fill="rgba(125,50,20,0.75)" class="c">0.98</text>
<text x="16.50" y="240.83" font-size="4.3" text-anchor="middle" font-weight="bold" fill="rgba(30,40,90,0.65)" class="c">0.85</text>
<text x="27.69" y="240.83" font-size="4.3" text-anchor="middle" font-weight="bold" fill="rgba(30,40,90,0.65)" class="c">0.85</text>
<text x="38.89" y="240.83" font-size="4.3" text-anchor="middle" font-weight="bold" fill="rgba(30,40,90,0.65)" class="c">0.85</text>
<text x="50.08" y="240.83" font-size="4.3" text-anchor="middle" font-weight="bold" fill="rgba(125,50,20,0.75)" class="c">0.98</text>
<text x="61.28" y="240.83" font-size="4.3" text-anchor="middle" font-weight="bold" fill="rgba(125,50,20,0.75)" class="c">0.98</text>
<text x="72.47" y="240.83" font-size="4.3" text-anchor="middle" font-weight="bold" fill="rgba(125,50,20,0.75)" class="c">0.98</text>
<text x="83.67" y="240.83" font-size="4.3" text-anchor="middle" font-weight="bold" fill="rgba(125,50,20,0.75)" class="c">0.98</text>
<text x="94.86" y="240.83" font-size="4.3" text-anchor="middle" font-weight="bold" fill="rgba(125,50,20,0.75)" class="c">0.98</text>
<text x="106.06" y="240.83" font-size="4.3" text-anchor="middle" font-weight="bold" fill="rgba(125,50,20,0.75)" class="c">0.98</text>
<text x="117.25" y="240.83" font-size="4.3" text-anchor="middle" font-weight="bold" fill="rgba(125,50,20,0.75)" class="c">0.98</text>
<text x="128.44" y="240.83" font-size="4.3" text-anchor="middle" font-weight="bold" fill="rgba(125,50,20,0.75)" class="c">0.98</text>
<text x="139.64" y="240.83" font-size="4.3" text-anchor="middle" font-weight="bold" fill="rgba(125,50,20,0.75)" class="c">0.98</text>
<text x="150.83" y="240.83" font-size="4.3" text-anchor="middle" font-weight="bold" fill="rgba(125,50,20,0.75)" class="c">0.98</text>
<text x="162.03" y="240.83" font-size="4.3" text-anchor="middle" font-weight="bold" fill="rgba(125,50,20,0.75)" class="c">0.98</text>
<text x="173.22" y="240.83" font-size="4.3" text-anchor="middle" font-weight="bold" fill="rgba(125,50,20,0.75)" class="c">0.98</text>
<text x="184.42" y="240.83" font-size="4.3" text-anchor="middle" font-weight="bold" fill="rgba(125,50,20,0.75)" class="c">0.98</text>
<text x="195.61" y="240.83" font-size="4.3" text-anchor="middle" font-weight="bold" fill="rgba(125,50,20,0.75)" class="c">0.98</text>
<text x="206.81" y="240.83" font-size="4.3" text-anchor="middle" font-weight="bold" fill="rgba(125,50,20,0.75)" class="c">0.98</text>
<text x="218.00" y="240.83" font-size="4.3" text-anchor="middle" font-weight="bold" fill="rgba(125,50,20,0.75)" class="c">1</text>
<text x="225.00" y="21.42" font-size="5.2" text-anchor="start" font-weight="normal" fill="#1a1a1a">Endo_r1</text>
<text x="225.00" y="33.65" font-size="5.2" text-anchor="start" font-weight="normal" fill="#1a1a1a">Endo_r2</text>
<text x="225.00" y="45.88" font-size="5.2" text-anchor="start" font-weight="normal" fill="#1a1a1a">Endo_r3</text>
<text x="225.00" y="58.11" font-size="5.2" text-anchor="start" font-weight="normal" fill="#1a1a1a">Host.1_r1</text>
<text x="225.00" y="70.34" font-size="5.2" text-anchor="start" font-weight="normal" fill="#1a1a1a">Host.1_r2</text>
<text x="225.00" y="82.57" font-size="5.2" text-anchor="start" font-weight="normal" fill="#1a1a1a">Host.1_r3</text>
<text x="225.00" y="94.81" font-size="5.2" text-anchor="start" font-weight="normal" fill="#1a1a1a">Host.1_r4</text>
<text x="225.00" y="107.04" font-size="5.2" text-anchor="start" font-weight="normal" fill="#1a1a1a">Donor.2_r1</text>
<text x="225.00" y="119.27" font-size="5.2" text-anchor="start" font-weight="normal" fill="#1a1a1a">Donor.2_r2</text>
<text x="225.00" y="131.50" font-size="5.2" text-anchor="start" font-weight="normal" fill="#1a1a1a">Donor.2_r3</text>
<text x="225.00" y="143.73" font-size="5.2" text-anchor="start" font-weight="normal" fill="#1a1a1a">Donor.2_r4</text>
<text x="225.00" y="155.96" font-size="5.2" text-anchor="start" font-weight="normal" fill="#1a1a1a">Host.2_r1</text>
<text x="225.00" y="168.19" font-size="5.2" text-anchor="start" font-weight="normal" fill="#1a1a1a">Host.2_r2</text>
<text x="225.00" y="180.43" font-size="5.2" text-anchor="start" font-weight="normal" fill="#1a1a1a">Host.2_r3</text>
<text x="225.00" y="192.66" font-size="5.2" text-anchor="start" font-weight="normal" fill="#1a1a1a">Host.2_r4</text>
<text x="225.00" y="204.89" font-size="5.2" text-anchor="start" font-weight="normal" fill="#1a1a1a">Donor.1_r1</text>
<text x="225.00" y="217.12" font-size="5.2" text-anchor="start" font-weight="normal" fill="#1a1a1a">Donor.1_r2</text>
<text x="225.00" y="229.35" font-size="5.2" text-anchor="start" font-weight="normal" fill="#1a1a1a">Donor.1_r3</text>
<text x="225.00" y="241.58" font-size="5.2" text-anchor="start" font-weight="normal" fill="#1a1a1a">Donor.1_r4</text>
<text class="c" x="14.60" y="247.30" font-size="5.25" fill="#222" transform="rotate(90 14.60 247.30)">Endo_r1</text>
<text class="c" x="25.79" y="247.30" font-size="5.25" fill="#222" transform="rotate(90 25.79 247.30)">Endo_r2</text>
<text class="c" x="36.99" y="247.30" font-size="5.25" fill="#222" transform="rotate(90 36.99 247.30)">Endo_r3</text>
<text class="c" x="48.18" y="247.30" font-size="5.25" fill="#222" transform="rotate(90 48.18 247.30)">Host.1_r1</text>
<text class="c" x="59.38" y="247.30" font-size="5.25" fill="#222" transform="rotate(90 59.38 247.30)">Host.1_r2</text>
<text class="c" x="70.57" y="247.30" font-size="5.25" fill="#222" transform="rotate(90 70.57 247.30)">Host.1_r3</text>
<text class="c" x="81.77" y="247.30" font-size="5.25" fill="#222" transform="rotate(90 81.77 247.30)">Host.1_r4</text>
<text class="c" x="92.96" y="247.30" font-size="5.25" fill="#222" transform="rotate(90 92.96 247.30)">Donor.2_r1</text>
<text class="c" x="104.16" y="247.30" font-size="5.25" fill="#222" transform="rotate(90 104.16 247.30)">Donor.2_r2</text>
<text class="c" x="115.35" y="247.30" font-size="5.25" fill="#222" transform="rotate(90 115.35 247.30)">Donor.2_r3</text>
<text class="c" x="126.54" y="247.30" font-size="5.25" fill="#222" transform="rotate(90 126.54 247.30)">Donor.2_r4</text>
<text class="c" x="137.74" y="247.30" font-size="5.25" fill="#222" transform="rotate(90 137.74 247.30)">Host.2_r1</text>
<text class="c" x="148.93" y="247.30" font-size="5.25" fill="#222" transform="rotate(90 148.93 247.30)">Host.2_r2</text>
<text class="c" x="160.13" y="247.30" font-size="5.25" fill="#222" transform="rotate(90 160.13 247.30)">Host.2_r3</text>
<text class="c" x="171.32" y="247.30" font-size="5.25" fill="#222" transform="rotate(90 171.32 247.30)">Host.2_r4</text>
<text class="c" x="182.52" y="247.30" font-size="5.25" fill="#222" transform="rotate(90 182.52 247.30)">Donor.1_r1</text>
<text class="c" x="193.71" y="247.30" font-size="5.25" fill="#222" transform="rotate(90 193.71 247.30)">Donor.1_r2</text>
<text class="c" x="204.91" y="247.30" font-size="5.25" fill="#222" transform="rotate(90 204.91 247.30)">Donor.1_r3</text>
<text class="c" x="216.10" y="247.30" font-size="5.25" fill="#222" transform="rotate(90 216.10 247.30)">Donor.1_r4</text>
<line x1="46.40" y1="276.60" x2="84.10" y2="276.60" stroke="#222" stroke-width="0.9"/>
<text x="68.40" y="283.90" font-size="6.0" text-anchor="middle" font-weight="normal" fill="#222">Host.1</text>
<line x1="91.40" y1="276.60" x2="129.60" y2="276.60" stroke="#222" stroke-width="0.9"/>
<text x="109.80" y="283.90" font-size="6.0" text-anchor="middle" font-weight="normal" fill="#222">Donor.2</text>
<line x1="136.10" y1="276.60" x2="173.60" y2="276.60" stroke="#222" stroke-width="0.9"/>
<text x="156.80" y="283.90" font-size="6.0" text-anchor="middle" font-weight="normal" fill="#222">Host.2</text>
<line x1="181.10" y1="276.60" x2="219.10" y2="276.60" stroke="#222" stroke-width="0.9"/>
<text x="199.50" y="283.90" font-size="6.0" text-anchor="middle" font-weight="normal" fill="#222">Donor.1</text>
<line x1="59.30" y1="286.30" x2="120.60" y2="286.30" stroke="#222" stroke-width="0.9"/>
<text x="86.70" y="293.90" font-size="6.0" text-anchor="middle" font-weight="normal" fill="#222">Set 1</text>
<line x1="147.80" y1="286.30" x2="209.90" y2="286.30" stroke="#222" stroke-width="0.9"/>
<text x="174.50" y="293.90" font-size="6.0" text-anchor="middle" font-weight="normal" fill="#222">Set 2</text>
<defs><linearGradient id="cb" x1="0" y1="0" x2="0" y2="1">
<stop offset="0" stop-color="#a8282c"/>
<stop offset="0.10" stop-color="#d14f3d"/>
<stop offset="0.20" stop-color="#ea8a5c"/>
<stop offset="0.30" stop-color="#f7c784"/>
<stop offset="0.40" stop-color="#fae6a8"/>
<stop offset="0.50" stop-color="#f3f3de"/>
<stop offset="0.60" stop-color="#dce9f1"/>
<stop offset="0.70" stop-color="#b9d0e7"/>
<stop offset="0.82" stop-color="#8aa8d4"/>
<stop offset="1" stop-color="#4d68ad"/>
</linearGradient></defs>
<rect x="255.00" y="13.50" width="4.90" height="78.40" fill="url(#cb)" stroke="none" stroke-width="0.6"/>
<text x="261.80" y="16.00" font-size="5.4" text-anchor="start" font-weight="normal" fill="#1a1a1a">1</text>
<text x="261.80" y="39.50" font-size="5.4" text-anchor="start" font-weight="normal" fill="#1a1a1a">0.95</text>
<text x="261.80" y="63.80" font-size="5.4" text-anchor="start" font-weight="normal" fill="#1a1a1a">0.9</text>
<text x="261.80" y="88.00" font-size="5.4" text-anchor="start" font-weight="normal" fill="#1a1a1a">0.85</text>
<text x="0.70" y="8.80" font-size="11.6" text-anchor="start" font-weight="bold" fill="#0a0a0a">A</text>
<text x="277.60" y="9.00" font-size="11.6" text-anchor="start" font-weight="bold" fill="#0a0a0a">B</text>
<text x="277.90" y="169.20" font-size="11.6" text-anchor="start" font-weight="bold" fill="#0a0a0a">C</text>
<line x1="312.40" y1="17.10" x2="312.40" y2="106.40" stroke="#222" stroke-width="0.9"/>
<line x1="311.95" y1="106.40" x2="431.20" y2="106.40" stroke="#222" stroke-width="0.9"/>
<line x1="310.20" y1="106.40" x2="312.40" y2="106.40" stroke="#222" stroke-width="0.8"/>
<text x="309.60" y="108.20" font-size="5.0" text-anchor="end" font-weight="normal" fill="#222">0</text>
<line x1="310.20" y1="76.63" x2="312.40" y2="76.63" stroke="#222" stroke-width="0.8"/>
<text x="309.60" y="78.43" font-size="5.0" text-anchor="end" font-weight="normal" fill="#222">500</text>
<line x1="310.20" y1="46.87" x2="312.40" y2="46.87" stroke="#222" stroke-width="0.8"/>
<text x="309.60" y="48.67" font-size="5.0" text-anchor="end" font-weight="normal" fill="#222">1000</text>
<line x1="310.20" y1="17.10" x2="312.40" y2="17.10" stroke="#222" stroke-width="0.8"/>
<text x="309.60" y="18.90" font-size="5.0" text-anchor="end" font-weight="normal" fill="#222">1500</text>
<line x1="311.10" y1="91.52" x2="312.40" y2="91.52" stroke="#222" stroke-width="0.7"/>
<line x1="311.10" y1="61.75" x2="312.40" y2="61.75" stroke="#222" stroke-width="0.7"/>
<line x1="311.10" y1="31.98" x2="312.40" y2="31.98" stroke="#222" stroke-width="0.7"/>
<line x1="322.60" y1="106.40" x2="322.60" y2="108.70" stroke="#222" stroke-width="0.8"/>
<text x="324.70" y="109.10" font-size="6.1" text-anchor="end" fill="#1a1a1a" transform="rotate(-90 324.70 109.10)">Mertk</text>
<line x1="342.40" y1="106.40" x2="342.40" y2="108.70" stroke="#222" stroke-width="0.8"/>
<text x="344.50" y="109.10" font-size="6.1" text-anchor="end" fill="#1a1a1a" transform="rotate(-90 344.50 109.10)">Fcgr1 (CD64)</text>
<line x1="362.20" y1="106.40" x2="362.20" y2="108.70" stroke="#222" stroke-width="0.8"/>
<text x="364.30" y="109.10" font-size="6.1" text-anchor="end" fill="#1a1a1a" transform="rotate(-90 364.30 109.10)">Itgax (CD11c)</text>
<line x1="382.00" y1="106.40" x2="382.00" y2="108.70" stroke="#222" stroke-width="0.8"/>
<text x="384.10" y="109.10" font-size="6.1" text-anchor="end" fill="#1a1a1a" transform="rotate(-90 384.10 109.10)">Emr1 (F4/80)</text>
<line x1="401.80" y1="106.40" x2="401.80" y2="108.70" stroke="#222" stroke-width="0.8"/>
<text x="403.90" y="109.10" font-size="6.1" text-anchor="end" fill="#1a1a1a" transform="rotate(-90 403.90 109.10)">Siglec 5 (Siglec F)</text>
<line x1="421.60" y1="106.40" x2="421.60" y2="108.70" stroke="#222" stroke-width="0.8"/>
<text x="423.70" y="109.10" font-size="6.1" text-anchor="end" fill="#1a1a1a" transform="rotate(-90 423.70 109.10)">Ly6c1</text>
<rect x="397.30" y="106.40" width="9.90" height="52.40" fill="none" stroke="#c0392b" stroke-width="0.8"/>
<text x="289.2" y="59.0" font-size="5.35" text-anchor="middle" fill="#1a1a1a" transform="rotate(-90 289.2 59.0)">Relative mRNA Expression</text>
<text x="295.8" y="58.3" font-size="5.35" text-anchor="middle" fill="#1a1a1a" transform="rotate(-90 295.8 58.3)">Alv Mac Surface Markers</text>
<circle cx="322.60" cy="47.71" r="1.45" fill="#2a3399"/>
<circle cx="322.60" cy="58.46" r="1.45" fill="#2a3399"/>
<circle cx="321.00" cy="44.72" r="1.45" fill="#3d6bd2"/>
<circle cx="324.20" cy="48.60" r="1.45" fill="#3d6bd2"/>
<circle cx="321.80" cy="53.64" r="1.45" fill="#7ea4e2"/>
<circle cx="324.60" cy="53.01" r="1.45" fill="#e0a552"/>
<circle cx="324.20" cy="44.93" r="1.45" fill="#3d6bd2"/>
<circle cx="323.40" cy="54.35" r="1.45" fill="#2a3399"/>
<circle cx="321.80" cy="49.26" r="1.45" fill="#7ea4e2"/>
<circle cx="322.60" cy="52.40" r="1.45" fill="#7ea4e2"/>
<circle cx="320.60" cy="52.84" r="1.45" fill="#e0a552"/>
<circle cx="322.60" cy="39.59" r="1.45" fill="#3a1c16"/>
<circle cx="320.60" cy="48.09" r="1.45" fill="#3d6bd2"/>
<circle cx="322.60" cy="43.69" r="1.45" fill="#3d6bd2"/>
<circle cx="323.40" cy="50.20" r="1.45" fill="#2a3399"/>
<circle cx="325.80" cy="49.24" r="1.45" fill="#e0a552"/>
<line x1="315.60" y1="45.30" x2="329.60" y2="45.30" stroke="#777" stroke-width="0.6"/>
<line x1="322.60" y1="42.30" x2="322.60" y2="48.30" stroke="#777" stroke-width="0.5"/>
<line x1="320.10" y1="42.30" x2="325.10" y2="42.30" stroke="#777" stroke-width="0.5"/>
<line x1="320.10" y1="48.30" x2="325.10" y2="48.30" stroke="#777" stroke-width="0.5"/>
<circle cx="345.60" cy="89.27" r="1.45" fill="#e0a552"/>
<circle cx="342.40" cy="88.77" r="1.45" fill="#e0a552"/>
<circle cx="340.40" cy="81.32" r="1.45" fill="#7ea4e2"/>
<circle cx="339.20" cy="82.47" r="1.45" fill="#3d6bd2"/>
<circle cx="344.00" cy="82.18" r="1.45" fill="#3d6bd2"/>
<circle cx="340.40" cy="84.00" r="1.45" fill="#7ea4e2"/>
<circle cx="342.40" cy="81.20" r="1.45" fill="#3d6bd2"/>
<circle cx="345.60" cy="82.50" r="1.45" fill="#7ea4e2"/>
<circle cx="340.40" cy="88.82" r="1.45" fill="#e0a552"/>
<circle cx="344.40" cy="84.25" r="1.45" fill="#2a3399"/>
<circle cx="339.20" cy="89.21" r="1.45" fill="#3a1c16"/>
<circle cx="342.40" cy="83.93" r="1.45" fill="#2a3399"/>
<circle cx="339.20" cy="84.81" r="1.45" fill="#3d6bd2"/>
<circle cx="344.40" cy="89.09" r="1.45" fill="#e0a552"/>
<line x1="336.40" y1="85.50" x2="348.40" y2="85.50" stroke="#777" stroke-width="0.6"/>
<line x1="342.40" y1="83.50" x2="342.40" y2="87.50" stroke="#777" stroke-width="0.5"/>
<line x1="339.90" y1="83.50" x2="344.90" y2="83.50" stroke="#777" stroke-width="0.5"/>
<line x1="339.90" y1="87.50" x2="344.90" y2="87.50" stroke="#777" stroke-width="0.5"/>
<circle cx="361.00" cy="26.98" r="1.45" fill="#3d6bd2"/>
<circle cx="361.80" cy="27.94" r="1.45" fill="#e0a552"/>
<circle cx="362.20" cy="40.32" r="1.45" fill="#e0a552"/>
<circle cx="360.20" cy="23.91" r="1.45" fill="#3a1c16"/>
<circle cx="362.20" cy="30.25" r="1.45" fill="#e0a552"/>
<circle cx="365.00" cy="27.22" r="1.45" fill="#2a3399"/>
<circle cx="362.20" cy="33.70" r="1.45" fill="#2a3399"/>
<circle cx="363.80" cy="28.47" r="1.45" fill="#2a3399"/>
<circle cx="362.20" cy="23.22" r="1.45" fill="#3d6bd2"/>
<circle cx="362.20" cy="21.21" r="1.45" fill="#3d6bd2"/>
<circle cx="362.20" cy="18.05" r="1.45" fill="#7ea4e2"/>
<circle cx="365.40" cy="28.90" r="1.45" fill="#7ea4e2"/>
<circle cx="363.00" cy="27.08" r="1.45" fill="#7ea4e2"/>
<circle cx="359.40" cy="27.75" r="1.45" fill="#3d6bd2"/>
<circle cx="361.00" cy="31.76" r="1.45" fill="#7ea4e2"/>
<circle cx="362.20" cy="25.46" r="1.45" fill="#3a1c16"/>
<line x1="355.20" y1="27.00" x2="369.20" y2="27.00" stroke="#777" stroke-width="0.6"/>
<line x1="362.20" y1="24.00" x2="362.20" y2="30.00" stroke="#777" stroke-width="0.5"/>
<line x1="359.70" y1="24.00" x2="364.70" y2="24.00" stroke="#777" stroke-width="0.5"/>
<line x1="359.70" y1="30.00" x2="364.70" y2="30.00" stroke="#777" stroke-width="0.5"/>
<circle cx="382.00" cy="73.67" r="1.45" fill="#3d6bd2"/>
<circle cx="382.00" cy="67.54" r="1.45" fill="#3a1c16"/>
<circle cx="382.00" cy="79.68" r="1.45" fill="#7ea4e2"/>
<circle cx="382.00" cy="77.61" r="1.45" fill="#7ea4e2"/>
<circle cx="382.00" cy="75.72" r="1.45" fill="#2a3399"/>
<circle cx="384.00" cy="73.94" r="1.45" fill="#3d6bd2"/>
<circle cx="380.80" cy="70.87" r="1.45" fill="#e0a552"/>
<circle cx="380.00" cy="68.04" r="1.45" fill="#3a1c16"/>
<circle cx="384.40" cy="70.11" r="1.45" fill="#e0a552"/>
<circle cx="378.80" cy="75.10" r="1.45" fill="#3d6bd2"/>
<circle cx="380.40" cy="76.63" r="1.45" fill="#2a3399"/>
<circle cx="383.60" cy="68.46" r="1.45" fill="#3a1c16"/>
<circle cx="382.00" cy="69.42" r="1.45" fill="#e0a552"/>
<circle cx="378.80" cy="69.49" r="1.45" fill="#e0a552"/>
<circle cx="384.00" cy="76.33" r="1.45" fill="#2a3399"/>
<circle cx="380.00" cy="73.82" r="1.45" fill="#3d6bd2"/>
<line x1="376.00" y1="71.50" x2="388.00" y2="71.50" stroke="#777" stroke-width="0.6"/>
<line x1="382.00" y1="69.50" x2="382.00" y2="73.50" stroke="#777" stroke-width="0.5"/>
<line x1="379.50" y1="69.50" x2="384.50" y2="69.50" stroke="#777" stroke-width="0.5"/>
<line x1="379.50" y1="73.50" x2="384.50" y2="73.50" stroke="#777" stroke-width="0.5"/>
<circle cx="401.80" cy="55.20" r="1.45" fill="#e0a552"/>
<circle cx="401.80" cy="47.87" r="1.45" fill="#3a1c16"/>
<circle cx="401.80" cy="51.74" r="1.45" fill="#3a1c16"/>
<circle cx="402.60" cy="53.41" r="1.45" fill="#e0a552"/>
<circle cx="401.80" cy="43.06" r="1.45" fill="#3a1c16"/>
<circle cx="401.80" cy="35.65" r="1.45" fill="#e0a552"/>
<circle cx="400.60" cy="53.21" r="1.45" fill="#3a1c16"/>
<circle cx="399.80" cy="48.49" r="1.45" fill="#e0a552"/>
<line x1="395.50" y1="49.00" x2="408.10" y2="49.00" stroke="#b0b0b0" stroke-width="0.6"/>
<line x1="401.80" y1="46.00" x2="401.80" y2="52.00" stroke="#b0b0b0" stroke-width="0.5"/>
<line x1="399.30" y1="46.00" x2="404.30" y2="46.00" stroke="#b0b0b0" stroke-width="0.5"/>
<line x1="399.30" y1="52.00" x2="404.30" y2="52.00" stroke="#b0b0b0" stroke-width="0.5"/>
<circle cx="398.20" cy="68.80" r="1.45" fill="#2a3399"/>
<circle cx="401.80" cy="62.15" r="1.45" fill="#2a3399"/>
<circle cx="399.80" cy="65.01" r="1.45" fill="#7ea4e2"/>
<circle cx="401.80" cy="64.34" r="1.45" fill="#3d6bd2"/>
<circle cx="405.40" cy="65.56" r="1.45" fill="#7ea4e2"/>
<circle cx="403.40" cy="65.51" r="1.45" fill="#3d6bd2"/>
<circle cx="401.80" cy="67.38" r="1.45" fill="#7ea4e2"/>
<circle cx="399.80" cy="62.82" r="1.45" fill="#3d6bd2"/>
<circle cx="403.40" cy="68.47" r="1.45" fill="#7ea4e2"/>
<circle cx="399.80" cy="67.71" r="1.45" fill="#3d6bd2"/>
<circle cx="397.80" cy="65.61" r="1.45" fill="#3d6bd2"/>
<circle cx="401.80" cy="70.42" r="1.45" fill="#2a3399"/>
<line x1="395.50" y1="66.00" x2="408.10" y2="66.00" stroke="#b0b0b0" stroke-width="0.6"/>
<line x1="401.80" y1="64.00" x2="401.80" y2="68.00" stroke="#b0b0b0" stroke-width="0.5"/>
<line x1="399.30" y1="64.00" x2="404.30" y2="64.00" stroke="#b0b0b0" stroke-width="0.5"/>
<line x1="399.30" y1="68.00" x2="404.30" y2="68.00" stroke="#b0b0b0" stroke-width="0.5"/>
<circle cx="416.60" cy="106.1" r="1.3" fill="#2a3399"/>
<circle cx="418.60" cy="106.1" r="1.3" fill="#3d6bd2"/>
<circle cx="420.60" cy="106.1" r="1.3" fill="#3d6bd2"/>
<circle cx="422.60" cy="106.1" r="1.3" fill="#2a3399"/>
<circle cx="424.60" cy="106.1" r="1.3" fill="#3d6bd2"/>
<circle cx="426.60" cy="106.1" r="1.3" fill="#7ea4e2"/>
<rect x="439.50" y="16.50" width="33.10" height="32.20" fill="#fff" stroke="#c8c8c8" stroke-width="0.5"/>
<path d="M439.90,48.40 L440.26,48.40 L440.62,48.40 L440.98,48.40 L441.34,48.40 L441.69,48.40 L442.05,48.40 L442.41,48.40 L442.77,48.40 L443.13,48.40 L443.49,48.40 L443.85,48.40 L444.21,48.40 L444.57,48.40 L444.92,48.40 L445.28,48.39 L445.64,48.39 L446.00,48.38 L446.36,48.36 L446.72,48.32 L447.08,48.26 L447.44,48.17 L447.80,48.01 L448.15,47.76 L448.51,47.38 L448.87,46.83 L449.23,46.06 L449.59,44.99 L449.95,43.59 L450.31,41.81 L450.67,39.63 L451.03,37.07 L451.38,34.17 L451.74,31.05 L452.10,27.86 L452.46,24.78 L452.82,22.01 L453.18,19.77 L453.54,18.24 L453.90,17.54 L454.26,17.75 L454.61,18.92 L454.97,20.95 L455.33,23.65 L455.69,26.79 L456.05,30.13 L456.41,33.44 L456.77,36.54 L457.13,39.30 L457.49,41.63 L457.84,43.53 L458.20,45.01 L458.56,46.11 L458.92,46.90 L459.28,47.45 L459.64,47.82 L460.00,48.06 L460.36,48.20 L460.72,48.29 L461.07,48.34 L461.43,48.37 L461.79,48.38 L462.15,48.39 L462.51,48.40 L462.87,48.40 L463.23,48.40 L463.59,48.40 L463.95,48.40 L464.30,48.40 L464.66,48.40 L465.02,48.40 L465.38,48.40 L465.74,48.40 L466.10,48.40 L466.46,48.40 L466.82,48.40 L467.18,48.40 L467.53,48.40 L467.89,48.40 L468.25,48.40 L468.61,48.40 L468.97,48.40 L469.33,48.40 L469.69,48.40 L470.05,48.40 L470.41,48.40 L470.76,48.40 L471.12,48.40 L471.48,48.40 L471.84,48.40 L472.20,48.40" fill="none" stroke="#c8c0c4" stroke-width="0.6" stroke-linejoin="round"/>
<path d="M439.90,48.40 L440.26,48.40 L440.62,48.40 L440.98,48.40 L441.34,48.40 L441.69,48.40 L442.05,48.40 L442.41,48.40 L442.77,48.40 L443.13,48.40 L443.49,48.40 L443.85,48.40 L444.21,48.40 L444.57,48.40 L444.92,48.40 L445.28,48.40 L445.64,48.40 L446.00,48.40 L446.36,48.40 L446.72,48.40 L447.08,48.40 L447.44,48.40 L447.80,48.40 L448.15,48.40 L448.51,48.40 L448.87,48.40 L449.23,48.40 L449.59,48.40 L449.95,48.40 L450.31,48.40 L450.67,48.40 L451.03,48.40 L451.38,48.40 L451.74,48.40 L452.10,48.40 L452.46,48.40 L452.82,48.40 L453.18,48.40 L453.54,48.40 L453.90,48.40 L454.26,48.40 L454.61,48.39 L454.97,48.38 L455.33,48.37 L455.69,48.33 L456.05,48.25 L456.41,48.11 L456.77,47.86 L457.13,47.43 L457.49,46.75 L457.84,45.71 L458.20,44.20 L458.56,42.14 L458.92,39.47 L459.28,36.22 L459.64,32.52 L460.00,28.58 L460.36,24.75 L460.72,21.41 L461.07,18.94 L461.43,17.65 L461.79,17.64 L462.15,18.65 L462.51,20.54 L462.87,23.13 L463.23,26.21 L463.59,29.53 L463.95,32.87 L464.30,36.01 L464.66,38.84 L465.02,41.25 L465.38,43.23 L465.74,44.77 L466.10,45.94 L466.46,46.78 L466.82,47.37 L467.18,47.77 L467.53,48.02 L467.89,48.18 L468.25,48.28 L468.61,48.33 L468.97,48.37 L469.33,48.38 L469.69,48.39 L470.05,48.40 L470.41,48.40 L470.76,48.40 L471.12,48.40 L471.48,48.40 L471.84,48.40 L472.20,48.40" fill="none" stroke="#4a40b8" stroke-width="0.9" stroke-linejoin="round"/>
<path d="M439.90,48.40 L440.26,48.40 L440.62,48.40 L440.98,48.40 L441.34,48.40 L441.69,48.40 L442.05,48.40 L442.41,48.40 L442.77,48.40 L443.13,48.40 L443.49,48.40 L443.85,48.40 L444.21,48.40 L444.57,48.40 L444.92,48.40 L445.28,48.40 L445.64,48.40 L446.00,48.40 L446.36,48.40 L446.72,48.40 L447.08,48.40 L447.44,48.40 L447.80,48.40 L448.15,48.40 L448.51,48.40 L448.87,48.40 L449.23,48.40 L449.59,48.40 L449.95,48.40 L450.31,48.40 L450.67,48.40 L451.03,48.40 L451.38,48.40 L451.74,48.40 L452.10,48.40 L452.46,48.40 L452.82,48.40 L453.18,48.40 L453.54,48.40 L453.90,48.40 L454.26,48.40 L454.61,48.40 L454.97,48.39 L455.33,48.39 L455.69,48.37 L456.05,48.33 L456.41,48.26 L456.77,48.13 L457.13,47.89 L457.49,47.49 L457.84,46.84 L458.20,45.85 L458.56,44.40 L458.92,42.41 L459.28,39.81 L459.64,36.62 L460.00,32.96 L460.36,29.03 L460.72,25.17 L461.07,21.76 L461.43,19.17 L461.79,17.73 L462.15,17.59 L462.51,18.49 L462.87,20.28 L463.23,22.81 L463.59,25.84 L463.95,29.15 L464.30,32.49 L464.66,35.67 L465.02,38.53 L465.38,41.00 L465.74,43.02 L466.10,44.62 L466.46,45.82 L466.82,46.70 L467.18,47.31 L467.53,47.73 L467.89,48.00 L468.25,48.17 L468.61,48.27 L468.97,48.33 L469.33,48.36 L469.69,48.38 L470.05,48.39 L470.41,48.40 L470.76,48.40 L471.12,48.40 L471.48,48.40 L471.84,48.40 L472.20,48.40" fill="none" stroke="#b3304a" stroke-width="0.8" stroke-linejoin="round"/>
<line x1="439.50" y1="48.70" x2="472.60" y2="48.70" stroke="#444" stroke-width="0.6"/>
<line x1="439.50" y1="16.50" x2="439.50" y2="48.70" stroke="#999" stroke-width="0.5"/>
<rect x="472.60" y="16.50" width="32.00" height="32.20" fill="#fff" stroke="#c8c8c8" stroke-width="0.5"/>
<path d="M473.00,48.40 L473.35,48.40 L473.69,48.40 L474.04,48.40 L474.39,48.40 L474.73,48.40 L475.08,48.40 L475.43,48.40 L475.77,48.40 L476.12,48.40 L476.47,48.40 L476.81,48.40 L477.16,48.40 L477.51,48.40 L477.85,48.40 L478.20,48.40 L478.55,48.40 L478.89,48.40 L479.24,48.40 L479.59,48.40 L479.93,48.39 L480.28,48.39 L480.63,48.38 L480.97,48.36 L481.32,48.32 L481.67,48.27 L482.01,48.17 L482.36,48.03 L482.71,47.80 L483.05,47.46 L483.40,46.96 L483.75,46.26 L484.09,45.31 L484.44,44.06 L484.79,42.46 L485.13,40.49 L485.48,38.15 L485.83,35.48 L486.17,32.55 L486.52,29.48 L486.87,26.42 L487.21,23.55 L487.56,21.07 L487.91,19.14 L488.25,17.92 L488.60,17.50 L488.95,17.96 L489.29,19.30 L489.64,21.41 L489.99,24.10 L490.33,27.17 L490.68,30.41 L491.03,33.60 L491.37,36.59 L491.72,39.25 L492.07,41.52 L492.41,43.38 L492.76,44.85 L493.11,45.96 L493.45,46.77 L493.80,47.35 L494.15,47.74 L494.49,48.00 L494.84,48.16 L495.19,48.26 L495.53,48.32 L495.88,48.36 L496.23,48.38 L496.57,48.39 L496.92,48.39 L497.27,48.40 L497.61,48.40 L497.96,48.40 L498.31,48.40 L498.65,48.40 L499.00,48.40 L499.35,48.40 L499.69,48.40 L500.04,48.40 L500.39,48.40 L500.73,48.40 L501.08,48.40 L501.43,48.40 L501.77,48.40 L502.12,48.40 L502.47,48.40 L502.81,48.40 L503.16,48.40 L503.51,48.40 L503.85,48.40 L504.20,48.40" fill="none" stroke="#c8c0c4" stroke-width="0.6" stroke-linejoin="round"/>
<path d="M473.00,48.40 L473.35,48.40 L473.69,48.40 L474.04,48.40 L474.39,48.40 L474.73,48.40 L475.08,48.40 L475.43,48.40 L475.77,48.40 L476.12,48.40 L476.47,48.40 L476.81,48.40 L477.16,48.40 L477.51,48.40 L477.85,48.40 L478.20,48.40 L478.55,48.40 L478.89,48.40 L479.24,48.40 L479.59,48.40 L479.93,48.40 L480.28,48.40 L480.63,48.40 L480.97,48.40 L481.32,48.40 L481.67,48.39 L482.01,48.38 L482.36,48.37 L482.71,48.34 L483.05,48.30 L483.40,48.22 L483.75,48.08 L484.09,47.87 L484.44,47.55 L484.79,47.06 L485.13,46.37 L485.48,45.40 L485.83,44.11 L486.17,42.43 L486.52,40.35 L486.87,37.86 L487.21,35.01 L487.56,31.90 L487.91,28.66 L488.25,25.49 L488.60,22.59 L488.95,20.19 L489.29,18.48 L489.64,17.60 L489.99,17.62 L490.33,18.48 L490.68,20.10 L491.03,22.35 L491.37,25.06 L491.72,28.06 L492.07,31.14 L492.41,34.15 L492.76,36.96 L493.11,39.46 L493.45,41.60 L493.80,43.36 L494.15,44.77 L494.49,45.86 L494.84,46.67 L495.19,47.25 L495.53,47.66 L495.88,47.93 L496.23,48.11 L496.57,48.23 L496.92,48.30 L497.27,48.34 L497.61,48.37 L497.96,48.38 L498.31,48.39 L498.65,48.40 L499.00,48.40 L499.35,48.40 L499.69,48.40 L500.04,48.40 L500.39,48.40 L500.73,48.40 L501.08,48.40 L501.43,48.40 L501.77,48.40 L502.12,48.40 L502.47,48.40 L502.81,48.40 L503.16,48.40 L503.51,48.40 L503.85,48.40 L504.20,48.40" fill="none" stroke="#4a40b8" stroke-width="0.9" stroke-linejoin="round"/>
<path d="M473.00,48.40 L473.35,48.40 L473.69,48.40 L474.04,48.40 L474.39,48.40 L474.73,48.40 L475.08,48.40 L475.43,48.40 L475.77,48.40 L476.12,48.40 L476.47,48.40 L476.81,48.40 L477.16,48.40 L477.51,48.40 L477.85,48.40 L478.20,48.40 L478.55,48.40 L478.89,48.40 L479.24,48.40 L479.59,48.40 L479.93,48.40 L480.28,48.40 L480.63,48.40 L480.97,48.40 L481.32,48.40 L481.67,48.40 L482.01,48.39 L482.36,48.39 L482.71,48.37 L483.05,48.35 L483.40,48.30 L483.75,48.23 L484.09,48.11 L484.44,47.91 L484.79,47.61 L485.13,47.15 L485.48,46.49 L485.83,45.57 L486.17,44.33 L486.52,42.71 L486.87,40.70 L487.21,38.27 L487.56,35.47 L487.91,32.39 L488.25,29.16 L488.60,25.96 L488.95,23.01 L489.29,20.52 L489.64,18.69 L489.99,17.68 L490.33,17.56 L490.68,18.30 L491.03,19.80 L491.37,21.97 L491.72,24.62 L492.07,27.58 L492.41,30.67 L492.76,33.70 L493.11,36.54 L493.45,39.09 L493.80,41.29 L494.15,43.12 L494.49,44.58 L494.84,45.71 L495.19,46.56 L495.53,47.17 L495.88,47.60 L496.23,47.90 L496.57,48.09 L496.92,48.22 L497.27,48.29 L497.61,48.34 L497.96,48.37 L498.31,48.38 L498.65,48.39 L499.00,48.40 L499.35,48.40 L499.69,48.40 L500.04,48.40 L500.39,48.40 L500.73,48.40 L501.08,48.40 L501.43,48.40 L501.77,48.40 L502.12,48.40 L502.47,48.40 L502.81,48.40 L503.16,48.40 L503.51,48.40 L503.85,48.40 L504.20,48.40" fill="none" stroke="#b3304a" stroke-width="0.8" stroke-linejoin="round"/>
<line x1="472.60" y1="48.70" x2="504.60" y2="48.70" stroke="#444" stroke-width="0.6"/>
<line x1="472.60" y1="16.50" x2="472.60" y2="48.70" stroke="#999" stroke-width="0.5"/>
<rect x="439.30" y="56.50" width="33.10" height="33.00" fill="#fff" stroke="#c8c8c8" stroke-width="0.5"/>
<path d="M439.70,87.54 L440.06,87.16 L440.42,86.72 L440.78,86.20 L441.14,85.61 L441.49,84.92 L441.85,84.14 L442.21,83.26 L442.57,82.28 L442.93,81.20 L443.29,80.02 L443.65,78.73 L444.01,77.36 L444.37,75.90 L444.72,74.36 L445.08,72.78 L445.44,71.15 L445.80,69.51 L446.16,67.88 L446.52,66.27 L446.88,64.73 L447.24,63.27 L447.60,61.93 L447.95,60.72 L448.31,59.68 L448.67,58.83 L449.03,58.17 L449.39,57.73 L449.75,57.52 L450.11,57.65 L450.47,58.63 L450.83,60.43 L451.18,62.91 L451.54,65.86 L451.90,69.08 L452.26,72.35 L452.62,75.50 L452.98,78.38 L453.34,80.90 L453.70,83.02 L454.06,84.73 L454.41,86.06 L454.77,87.05 L455.13,87.78 L455.49,88.28 L455.85,88.63 L456.21,88.85 L456.57,88.99 L456.93,89.08 L457.29,89.13 L457.64,89.16 L458.00,89.18 L458.36,89.19 L458.72,89.20 L459.08,89.20 L459.44,89.20 L459.80,89.20 L460.16,89.20 L460.52,89.20 L460.87,89.20 L461.23,89.20 L461.59,89.20 L461.95,89.20 L462.31,89.20 L462.67,89.20 L463.03,89.20 L463.39,89.20 L463.75,89.20 L464.10,89.20 L464.46,89.20 L464.82,89.20 L465.18,89.20 L465.54,89.20 L465.90,89.20 L466.26,89.20 L466.62,89.20 L466.98,89.20 L467.33,89.20 L467.69,89.20 L468.05,89.20 L468.41,89.20 L468.77,89.20 L469.13,89.20 L469.49,89.20 L469.85,89.20 L470.21,89.20 L470.56,89.20 L470.92,89.20 L471.28,89.20 L471.64,89.20 L472.00,89.20" fill="none" stroke="#cfaaa8" stroke-width="0.7" stroke-linejoin="round"/>
<path d="M439.70,89.20 L440.06,89.20 L440.42,89.20 L440.78,89.20 L441.14,89.20 L441.49,89.20 L441.85,89.20 L442.21,89.20 L442.57,89.20 L442.93,89.20 L443.29,89.20 L443.65,89.20 L444.01,89.20 L444.37,89.20 L444.72,89.20 L445.08,89.19 L445.44,89.19 L445.80,89.18 L446.16,89.16 L446.52,89.12 L446.88,89.07 L447.24,88.98 L447.60,88.85 L447.95,88.65 L448.31,88.35 L448.67,87.92 L449.03,87.32 L449.39,86.51 L449.75,85.45 L450.11,84.08 L450.47,82.39 L450.83,80.35 L451.18,77.98 L451.54,75.33 L451.90,72.45 L452.26,69.46 L452.62,66.50 L452.98,63.73 L453.34,61.30 L453.70,59.38 L454.06,58.09 L454.41,57.52 L454.77,57.67 L455.13,58.42 L455.49,59.72 L455.85,61.50 L456.21,63.66 L456.57,66.09 L456.93,68.69 L457.29,71.34 L457.64,73.94 L458.00,76.41 L458.36,78.68 L458.72,80.71 L459.08,82.48 L459.44,83.98 L459.80,85.22 L460.16,86.10 L460.52,86.05 L460.87,86.03 L461.23,86.04 L461.59,86.06 L461.95,86.12 L462.31,86.20 L462.67,86.29 L463.03,86.41 L463.39,86.55 L463.75,86.70 L464.10,86.85 L464.46,87.02 L464.82,87.19 L465.18,87.36 L465.54,87.54 L465.90,87.70 L466.26,87.86 L466.62,88.02 L466.98,88.16 L467.33,88.30 L467.69,88.42 L468.05,88.53 L468.41,88.63 L468.77,88.72 L469.13,88.80 L469.49,88.87 L469.85,88.93 L470.21,88.98 L470.56,89.02 L470.92,89.05 L471.28,89.08 L471.64,89.11 L472.00,89.13" fill="none" stroke="#4a40b8" stroke-width="0.9" stroke-linejoin="round"/>
<path d="M439.70,89.20 L440.06,89.20 L440.42,89.20 L440.78,89.20 L441.14,89.20 L441.49,89.20 L441.85,89.20 L442.21,89.20 L442.57,89.20 L442.93,89.20 L443.29,89.20 L443.65,89.20 L444.01,89.20 L444.37,89.20 L444.72,89.20 L445.08,89.20 L445.44,89.20 L445.80,89.20 L446.16,89.20 L446.52,89.20 L446.88,89.20 L447.24,89.20 L447.60,89.20 L447.95,89.20 L448.31,89.20 L448.67,89.20 L449.03,89.20 L449.39,89.19 L449.75,89.19 L450.11,89.17 L450.47,89.16 L450.83,89.12 L451.18,89.07 L451.54,88.98 L451.90,88.85 L452.26,88.64 L452.62,88.34 L452.98,87.91 L453.34,87.31 L453.70,86.50 L454.06,85.42 L454.41,84.05 L454.77,82.35 L455.13,80.31 L455.49,77.94 L455.85,75.27 L456.21,72.39 L456.57,69.41 L456.93,66.45 L457.29,63.68 L457.64,61.26 L458.00,59.35 L458.36,58.07 L458.72,57.52 L459.08,57.70 L459.44,58.52 L459.80,59.93 L460.16,61.84 L460.52,64.15 L460.87,66.73 L461.23,69.46 L461.59,72.21 L461.95,74.88 L462.31,77.37 L462.67,79.63 L463.03,81.61 L463.39,83.31 L463.75,84.72 L464.10,85.86 L464.46,86.06 L464.82,86.03 L465.18,86.03 L465.54,86.06 L465.90,86.11 L466.26,86.18 L466.62,86.28 L466.98,86.39 L467.33,86.53 L467.69,86.67 L468.05,86.83 L468.41,87.00 L468.77,87.17 L469.13,87.34 L469.49,87.51 L469.85,87.68 L470.21,87.84 L470.56,88.00 L470.92,88.14 L471.28,88.28 L471.64,88.40 L472.00,88.51" fill="none" stroke="#b3304a" stroke-width="0.9" stroke-linejoin="round"/>
<line x1="439.30" y1="89.50" x2="472.40" y2="89.50" stroke="#444" stroke-width="0.6"/>
<line x1="439.30" y1="56.50" x2="439.30" y2="89.50" stroke="#999" stroke-width="0.5"/>
<text class="c" x="434.6" y="32.7" font-size="4.6" text-anchor="middle" fill="#333" transform="rotate(-90 434.6 32.7)">% of Max</text>
<text class="c" x="434.6" y="73.4" font-size="4.6" text-anchor="middle" fill="#333" transform="rotate(-90 434.6 73.4)">% of Max</text>
<text x="455.50" y="53.90" font-size="4.5" text-anchor="middle" font-weight="normal" fill="#333" class="c">Mertk</text>
<text x="489.30" y="53.90" font-size="4.5" text-anchor="middle" font-weight="normal" fill="#333" class="c">F480</text>
<text x="452.00" y="94.60" font-size="4.6" text-anchor="middle" font-weight="normal" fill="#333" class="c">SiglecF</text>
<rect x="467.50" y="56.40" width="53.00" height="23.20" fill="#fff" stroke="#b8b8b8" stroke-width="0.5"/>
<text x="479.80" y="61.30" font-size="4.5" text-anchor="start" font-weight="bold" fill="#1a1a1a">Alv Macs</text>
<rect x="467.80" y="63.20" width="5.50" height="4.50" fill="#b01818" stroke="none" stroke-width="0.6"/>
<line x1="473.60" y1="64.50" x2="479.20" y2="64.50" stroke="#c8a0b0" stroke-width="0.5"/>
<line x1="473.60" y1="66.30" x2="479.20" y2="66.30" stroke="#a0a0d0" stroke-width="0.5"/>
<text x="479.80" y="67.30" font-size="4.6" text-anchor="start" font-weight="normal" fill="#2a2a2a">Embryonic derived</text>
<rect x="467.80" y="69.10" width="5.50" height="4.50" fill="#1010b0" stroke="none" stroke-width="0.6"/>
<line x1="473.60" y1="70.40" x2="479.20" y2="70.40" stroke="#c8a0b0" stroke-width="0.5"/>
<line x1="473.60" y1="72.20" x2="479.20" y2="72.20" stroke="#a0a0d0" stroke-width="0.5"/>
<text x="479.80" y="73.20" font-size="4.6" text-anchor="start" font-weight="normal" fill="#2a2a2a">Adult derived</text>
<rect x="467.80" y="75.00" width="5.50" height="4.50" fill="#a0a0a0" stroke="none" stroke-width="0.6"/>
<line x1="473.60" y1="76.30" x2="479.20" y2="76.30" stroke="#c8a0b0" stroke-width="0.5"/>
<line x1="473.60" y1="78.10" x2="479.20" y2="78.10" stroke="#a0a0d0" stroke-width="0.5"/>
<text x="479.80" y="79.10" font-size="4.6" text-anchor="start" font-weight="normal" fill="#2a2a2a">Isotype</text>
<line x1="312.50" y1="186.30" x2="312.50" y2="275.60" stroke="#222" stroke-width="0.9"/>
<line x1="312.05" y1="275.60" x2="507.00" y2="275.60" stroke="#222" stroke-width="0.9"/>
<line x1="310.30" y1="275.60" x2="312.50" y2="275.60" stroke="#222" stroke-width="0.8"/>
<text x="309.70" y="277.40" font-size="5.0" text-anchor="end" font-weight="normal" fill="#222">10</text>
<line x1="310.30" y1="230.95" x2="312.50" y2="230.95" stroke="#222" stroke-width="0.8"/>
<text x="309.70" y="232.75" font-size="5.0" text-anchor="end" font-weight="normal" fill="#222">100</text>
<line x1="310.30" y1="186.30" x2="312.50" y2="186.30" stroke="#222" stroke-width="0.8"/>
<text x="309.70" y="188.10" font-size="5.0" text-anchor="end" font-weight="normal" fill="#222">1000</text>
<line x1="311.20" y1="262.16" x2="312.50" y2="262.16" stroke="#222" stroke-width="0.6"/>
<line x1="311.20" y1="254.30" x2="312.50" y2="254.30" stroke="#222" stroke-width="0.6"/>
<line x1="311.20" y1="248.72" x2="312.50" y2="248.72" stroke="#222" stroke-width="0.6"/>
<line x1="311.20" y1="244.39" x2="312.50" y2="244.39" stroke="#222" stroke-width="0.6"/>
<line x1="311.20" y1="240.86" x2="312.50" y2="240.86" stroke="#222" stroke-width="0.6"/>
<line x1="311.20" y1="237.87" x2="312.50" y2="237.87" stroke="#222" stroke-width="0.6"/>
<line x1="311.20" y1="235.28" x2="312.50" y2="235.28" stroke="#222" stroke-width="0.6"/>
<line x1="311.20" y1="232.99" x2="312.50" y2="232.99" stroke="#222" stroke-width="0.6"/>
<line x1="311.20" y1="217.51" x2="312.50" y2="217.51" stroke="#222" stroke-width="0.6"/>
<line x1="311.20" y1="209.65" x2="312.50" y2="209.65" stroke="#222" stroke-width="0.6"/>
<line x1="311.20" y1="204.07" x2="312.50" y2="204.07" stroke="#222" stroke-width="0.6"/>
<line x1="311.20" y1="199.74" x2="312.50" y2="199.74" stroke="#222" stroke-width="0.6"/>
<line x1="311.20" y1="196.21" x2="312.50" y2="196.21" stroke="#222" stroke-width="0.6"/>
<line x1="311.20" y1="193.22" x2="312.50" y2="193.22" stroke="#222" stroke-width="0.6"/>
<line x1="311.20" y1="190.63" x2="312.50" y2="190.63" stroke="#222" stroke-width="0.6"/>
<line x1="311.20" y1="188.34" x2="312.50" y2="188.34" stroke="#222" stroke-width="0.6"/>
<line x1="318.00" y1="275.60" x2="318.00" y2="278.30" stroke="#222" stroke-width="0.8"/>
<text x="320.10" y="280.20" font-size="6.0" text-anchor="end" fill="#1a1a1a" transform="rotate(-90 320.10 280.20)">Atad2</text>
<line x1="327.15" y1="275.60" x2="327.15" y2="278.30" stroke="#222" stroke-width="0.8"/>
<text x="329.25" y="280.20" font-size="6.0" text-anchor="end" fill="#1a1a1a" transform="rotate(-90 329.25 280.20)">Baz1a</text>
<line x1="336.30" y1="275.60" x2="336.30" y2="278.30" stroke="#222" stroke-width="0.8"/>
<text x="338.40" y="280.20" font-size="6.0" text-anchor="end" fill="#1a1a1a" transform="rotate(-90 338.40 280.20)">Chd5</text>
<line x1="345.45" y1="275.60" x2="345.45" y2="278.30" stroke="#222" stroke-width="0.8"/>
<text x="347.55" y="280.20" font-size="6.0" text-anchor="end" fill="#1a1a1a" transform="rotate(-90 347.55 280.20)">Creb5</text>
<line x1="354.60" y1="275.60" x2="354.60" y2="278.30" stroke="#222" stroke-width="0.8"/>
<text x="356.70" y="280.20" font-size="6.0" text-anchor="end" fill="#1a1a1a" transform="rotate(-90 356.70 280.20)">Ctnnb1</text>
<line x1="363.75" y1="275.60" x2="363.75" y2="278.30" stroke="#222" stroke-width="0.8"/>
<text x="365.85" y="280.20" font-size="6.0" text-anchor="end" fill="#1a1a1a" transform="rotate(-90 365.85 280.20)">Egr2</text>
<line x1="372.90" y1="275.60" x2="372.90" y2="278.30" stroke="#222" stroke-width="0.8"/>
<text x="375.00" y="280.20" font-size="6.0" text-anchor="end" fill="#1a1a1a" transform="rotate(-90 375.00 280.20)">Fosl2</text>
<line x1="382.05" y1="275.60" x2="382.05" y2="278.30" stroke="#222" stroke-width="0.8"/>
<text x="384.15" y="280.20" font-size="6.0" text-anchor="end" fill="#1a1a1a" transform="rotate(-90 384.15 280.20)">Hat1</text>
<line x1="391.20" y1="275.60" x2="391.20" y2="278.30" stroke="#222" stroke-width="0.8"/>
<text x="393.30" y="280.20" font-size="6.0" text-anchor="end" fill="#1a1a1a" transform="rotate(-90 393.30 280.20)">Hmgn2</text>
<line x1="400.35" y1="275.60" x2="400.35" y2="278.30" stroke="#222" stroke-width="0.8"/>
<text x="402.45" y="280.20" font-size="6.0" text-anchor="end" fill="#1a1a1a" transform="rotate(-90 402.45 280.20)">Lima1</text>
<line x1="409.50" y1="275.60" x2="409.50" y2="278.30" stroke="#222" stroke-width="0.8"/>
<text x="411.60" y="280.20" font-size="6.0" text-anchor="end" fill="#1a1a1a" transform="rotate(-90 411.60 280.20)">Lmo4</text>
<line x1="418.65" y1="275.60" x2="418.65" y2="278.30" stroke="#222" stroke-width="0.8"/>
<text x="420.75" y="280.20" font-size="6.0" text-anchor="end" fill="#1a1a1a" transform="rotate(-90 420.75 280.20)">Lrrfip1</text>
<line x1="427.80" y1="275.60" x2="427.80" y2="278.30" stroke="#222" stroke-width="0.8"/>
<text x="429.90" y="280.20" font-size="6.0" text-anchor="end" fill="#1a1a1a" transform="rotate(-90 429.90 280.20)">Lsr</text>
<line x1="436.95" y1="275.60" x2="436.95" y2="278.30" stroke="#222" stroke-width="0.8"/>
<text x="439.05" y="280.20" font-size="6.0" text-anchor="end" fill="#1a1a1a" transform="rotate(-90 439.05 280.20)">Maff</text>
<line x1="446.10" y1="275.60" x2="446.10" y2="278.30" stroke="#222" stroke-width="0.8"/>
<text x="448.20" y="280.20" font-size="6.0" text-anchor="end" fill="#1a1a1a" transform="rotate(-90 448.20 280.20)">Ncoa4</text>
<line x1="455.25" y1="275.60" x2="455.25" y2="278.30" stroke="#222" stroke-width="0.8"/>
<text x="457.35" y="280.20" font-size="6.0" text-anchor="end" fill="#1a1a1a" transform="rotate(-90 457.35 280.20)">Rara</text>
<line x1="464.40" y1="275.60" x2="464.40" y2="278.30" stroke="#222" stroke-width="0.8"/>
<text x="466.50" y="280.20" font-size="6.0" text-anchor="end" fill="#1a1a1a" transform="rotate(-90 466.50 280.20)">Rbl1</text>
<line x1="473.55" y1="275.60" x2="473.55" y2="278.30" stroke="#222" stroke-width="0.8"/>
<text x="475.65" y="280.20" font-size="6.0" text-anchor="end" fill="#1a1a1a" transform="rotate(-90 475.65 280.20)">Runx2</text>
<line x1="482.70" y1="275.60" x2="482.70" y2="278.30" stroke="#222" stroke-width="0.8"/>
<text x="484.80" y="280.20" font-size="6.0" text-anchor="end" fill="#1a1a1a" transform="rotate(-90 484.80 280.20)">Trerf1</text>
<line x1="491.85" y1="275.60" x2="491.85" y2="278.30" stroke="#222" stroke-width="0.8"/>
<text x="493.95" y="280.20" font-size="6.0" text-anchor="end" fill="#1a1a1a" transform="rotate(-90 493.95 280.20)">Vdr</text>
<line x1="501.00" y1="275.60" x2="501.00" y2="278.30" stroke="#222" stroke-width="0.8"/>
<text x="503.10" y="280.20" font-size="6.0" text-anchor="end" fill="#1a1a1a" transform="rotate(-90 503.10 280.20)">Wwtr1</text>
<rect x="496.70" y="276.00" width="10.20" height="23.60" fill="none" stroke="#c0392b" stroke-width="0.8"/>
<text x="288.6" y="229.5" font-size="5.6" text-anchor="middle" fill="#1a1a1a" transform="rotate(-90 288.6 229.5)">Relative mRNA Expression</text>
<text x="295.2" y="230.2" font-size="5.65" text-anchor="middle" fill="#1a1a1a" transform="rotate(-90 295.2 230.2)">Alv Mac Specific Transcription Factors</text>
<circle cx="318.00" cy="223.97" r="1.45" fill="#3a1c16"/>
<circle cx="316.00" cy="227.50" r="1.45" fill="#e0a552"/>
<circle cx="316.00" cy="218.90" r="1.45" fill="#3d6bd2"/>
<circle cx="315.60" cy="220.68" r="1.45" fill="#7ea4e2"/>
<circle cx="316.00" cy="224.21" r="1.45" fill="#3a1c16"/>
<circle cx="318.00" cy="227.41" r="1.45" fill="#e0a552"/>
<circle cx="317.60" cy="220.28" r="1.45" fill="#2a3399"/>
<circle cx="318.00" cy="229.48" r="1.45" fill="#e0a552"/>
<circle cx="320.00" cy="219.04" r="1.45" fill="#3d6bd2"/>
<circle cx="320.40" cy="221.72" r="1.45" fill="#7ea4e2"/>
<circle cx="318.00" cy="218.55" r="1.45" fill="#3d6bd2"/>
<circle cx="318.80" cy="221.66" r="1.45" fill="#2a3399"/>
<circle cx="327.55" cy="198.39" r="1.45" fill="#3a1c16"/>
<circle cx="327.95" cy="200.22" r="1.45" fill="#e0a552"/>
<circle cx="328.35" cy="195.94" r="1.45" fill="#2a3399"/>
<circle cx="326.35" cy="201.42" r="1.45" fill="#e0a552"/>
<circle cx="327.15" cy="196.59" r="1.45" fill="#2a3399"/>
<circle cx="329.55" cy="196.95" r="1.45" fill="#7ea4e2"/>
<circle cx="324.75" cy="196.30" r="1.45" fill="#3d6bd2"/>
<circle cx="325.95" cy="197.38" r="1.45" fill="#7ea4e2"/>
<circle cx="327.15" cy="194.52" r="1.45" fill="#3d6bd2"/>
<circle cx="325.95" cy="199.55" r="1.45" fill="#3a1c16"/>
<circle cx="325.95" cy="195.80" r="1.45" fill="#3d6bd2"/>
<circle cx="335.50" cy="244.28" r="1.45" fill="#3d6bd2"/>
<circle cx="336.30" cy="242.76" r="1.45" fill="#3a1c16"/>
<circle cx="334.30" cy="242.90" r="1.45" fill="#7ea4e2"/>
<circle cx="333.90" cy="245.27" r="1.45" fill="#3d6bd2"/>
<circle cx="336.30" cy="239.63" r="1.45" fill="#e0a552"/>
<circle cx="334.30" cy="240.33" r="1.45" fill="#e0a552"/>
<circle cx="338.70" cy="245.65" r="1.45" fill="#2a3399"/>
<circle cx="336.30" cy="247.26" r="1.45" fill="#2a3399"/>
<circle cx="338.30" cy="242.99" r="1.45" fill="#7ea4e2"/>
<circle cx="337.50" cy="244.55" r="1.45" fill="#3d6bd2"/>
<circle cx="337.90" cy="240.64" r="1.45" fill="#e0a552"/>
<circle cx="344.25" cy="214.53" r="1.45" fill="#3d6bd2"/>
<circle cx="345.05" cy="213.37" r="1.45" fill="#3d6bd2"/>
<circle cx="343.45" cy="212.58" r="1.45" fill="#3d6bd2"/>
<circle cx="343.85" cy="216.68" r="1.45" fill="#3a1c16"/>
<circle cx="346.65" cy="216.97" r="1.45" fill="#3a1c16"/>
<circle cx="347.85" cy="214.34" r="1.45" fill="#7ea4e2"/>
<circle cx="345.45" cy="215.59" r="1.45" fill="#2a3399"/>
<circle cx="347.05" cy="212.91" r="1.45" fill="#e0a552"/>
<circle cx="346.25" cy="214.46" r="1.45" fill="#7ea4e2"/>
<circle cx="345.45" cy="211.95" r="1.45" fill="#e0a552"/>
<circle cx="343.05" cy="214.23" r="1.45" fill="#3d6bd2"/>
<circle cx="352.60" cy="192.93" r="1.45" fill="#3d6bd2"/>
<circle cx="354.60" cy="192.90" r="1.45" fill="#3d6bd2"/>
<circle cx="353.80" cy="188.79" r="1.45" fill="#3a1c16"/>
<circle cx="352.60" cy="187.75" r="1.45" fill="#3a1c16"/>
<circle cx="356.20" cy="188.69" r="1.45" fill="#3a1c16"/>
<circle cx="354.60" cy="187.52" r="1.45" fill="#3a1c16"/>
<circle cx="353.80" cy="193.53" r="1.45" fill="#3d6bd2"/>
<circle cx="355.40" cy="193.70" r="1.45" fill="#7ea4e2"/>
<circle cx="356.60" cy="193.12" r="1.45" fill="#7ea4e2"/>
<circle cx="361.75" cy="212.37" r="1.45" fill="#3d6bd2"/>
<circle cx="363.75" cy="211.97" r="1.45" fill="#3d6bd2"/>
<circle cx="363.75" cy="204.98" r="1.45" fill="#e0a552"/>
<circle cx="363.75" cy="217.09" r="1.45" fill="#2a3399"/>
<circle cx="365.35" cy="219.89" r="1.45" fill="#3a1c16"/>
<circle cx="363.75" cy="207.52" r="1.45" fill="#7ea4e2"/>
<circle cx="361.75" cy="205.09" r="1.45" fill="#e0a552"/>
<circle cx="363.75" cy="214.20" r="1.45" fill="#3d6bd2"/>
<circle cx="363.75" cy="219.18" r="1.45" fill="#7ea4e2"/>
<circle cx="362.15" cy="218.36" r="1.45" fill="#2a3399"/>
<circle cx="362.15" cy="208.53" r="1.45" fill="#3a1c16"/>
<circle cx="363.35" cy="209.92" r="1.45" fill="#3d6bd2"/>
<circle cx="364.95" cy="208.96" r="1.45" fill="#3a1c16"/>
<circle cx="370.50" cy="204.13" r="1.45" fill="#7ea4e2"/>
<circle cx="372.50" cy="203.63" r="1.45" fill="#3d6bd2"/>
<circle cx="374.10" cy="203.43" r="1.45" fill="#3d6bd2"/>
<circle cx="370.90" cy="199.63" r="1.45" fill="#e0a552"/>
<circle cx="375.30" cy="204.83" r="1.45" fill="#2a3399"/>
<circle cx="374.50" cy="200.44" r="1.45" fill="#e0a552"/>
<circle cx="370.90" cy="206.51" r="1.45" fill="#3a1c16"/>
<circle cx="372.90" cy="202.01" r="1.45" fill="#3d6bd2"/>
<circle cx="372.90" cy="199.53" r="1.45" fill="#e0a552"/>
<circle cx="371.30" cy="202.94" r="1.45" fill="#7ea4e2"/>
<circle cx="372.90" cy="206.03" r="1.45" fill="#3a1c16"/>
<circle cx="384.45" cy="225.91" r="1.45" fill="#2a3399"/>
<circle cx="382.05" cy="228.79" r="1.45" fill="#3a1c16"/>
<circle cx="382.85" cy="230.49" r="1.45" fill="#e0a552"/>
<circle cx="381.25" cy="230.58" r="1.45" fill="#e0a552"/>
<circle cx="380.45" cy="225.30" r="1.45" fill="#3d6bd2"/>
<circle cx="382.05" cy="224.06" r="1.45" fill="#3d6bd2"/>
<circle cx="381.25" cy="226.13" r="1.45" fill="#7ea4e2"/>
<circle cx="382.45" cy="225.84" r="1.45" fill="#7ea4e2"/>
<circle cx="383.25" cy="226.82" r="1.45" fill="#2a3399"/>
<circle cx="379.65" cy="226.14" r="1.45" fill="#3d6bd2"/>
<circle cx="380.05" cy="229.49" r="1.45" fill="#3a1c16"/>
<circle cx="391.60" cy="218.08" r="1.45" fill="#3a1c16"/>
<circle cx="390.40" cy="214.46" r="1.45" fill="#7ea4e2"/>
<circle cx="391.20" cy="213.07" r="1.45" fill="#7ea4e2"/>
<circle cx="388.80" cy="214.57" r="1.45" fill="#3d6bd2"/>
<circle cx="391.20" cy="220.47" r="1.45" fill="#e0a552"/>
<circle cx="389.20" cy="220.88" r="1.45" fill="#e0a552"/>
<circle cx="390.00" cy="217.34" r="1.45" fill="#3a1c16"/>
<circle cx="392.80" cy="213.99" r="1.45" fill="#3d6bd2"/>
<circle cx="391.20" cy="216.05" r="1.45" fill="#2a3399"/>
<circle cx="389.20" cy="213.23" r="1.45" fill="#3d6bd2"/>
<circle cx="401.95" cy="208.96" r="1.45" fill="#2a3399"/>
<circle cx="402.35" cy="202.61" r="1.45" fill="#e0a552"/>
<circle cx="400.35" cy="204.87" r="1.45" fill="#3d6bd2"/>
<circle cx="398.75" cy="207.94" r="1.45" fill="#7ea4e2"/>
<circle cx="397.95" cy="209.62" r="1.45" fill="#2a3399"/>
<circle cx="402.35" cy="207.39" r="1.45" fill="#7ea4e2"/>
<circle cx="400.35" cy="208.68" r="1.45" fill="#3d6bd2"/>
<circle cx="400.35" cy="202.21" r="1.45" fill="#e0a552"/>
<circle cx="398.75" cy="205.82" r="1.45" fill="#3a1c16"/>
<circle cx="400.35" cy="206.88" r="1.45" fill="#3d6bd2"/>
<circle cx="398.35" cy="202.41" r="1.45" fill="#e0a552"/>
<circle cx="411.50" cy="204.17" r="1.45" fill="#2a3399"/>
<circle cx="410.70" cy="202.44" r="1.45" fill="#3d6bd2"/>
<circle cx="408.30" cy="202.32" r="1.45" fill="#7ea4e2"/>
<circle cx="409.50" cy="200.99" r="1.45" fill="#3d6bd2"/>
<circle cx="411.10" cy="200.13" r="1.45" fill="#e0a552"/>
<circle cx="409.50" cy="204.01" r="1.45" fill="#7ea4e2"/>
<circle cx="409.50" cy="199.07" r="1.45" fill="#e0a552"/>
<circle cx="407.50" cy="199.61" r="1.45" fill="#e0a552"/>
<circle cx="408.30" cy="204.34" r="1.45" fill="#2a3399"/>
<circle cx="407.10" cy="203.49" r="1.45" fill="#3d6bd2"/>
<circle cx="417.85" cy="218.40" r="1.45" fill="#3d6bd2"/>
<circle cx="417.45" cy="220.06" r="1.45" fill="#2a3399"/>
<circle cx="416.25" cy="219.30" r="1.45" fill="#3d6bd2"/>
<circle cx="418.65" cy="217.39" r="1.45" fill="#e0a552"/>
<circle cx="419.05" cy="219.34" r="1.45" fill="#7ea4e2"/>
<circle cx="419.85" cy="220.39" r="1.45" fill="#7ea4e2"/>
<circle cx="416.65" cy="222.48" r="1.45" fill="#3a1c16"/>
<circle cx="420.25" cy="218.31" r="1.45" fill="#3d6bd2"/>
<circle cx="416.65" cy="217.66" r="1.45" fill="#e0a552"/>
<circle cx="421.05" cy="219.83" r="1.45" fill="#2a3399"/>
<circle cx="418.65" cy="221.99" r="1.45" fill="#3a1c16"/>
<circle cx="425.80" cy="216.32" r="1.45" fill="#7ea4e2"/>
<circle cx="428.60" cy="219.28" r="1.45" fill="#2a3399"/>
<circle cx="427.40" cy="220.63" r="1.45" fill="#3a1c16"/>
<circle cx="425.40" cy="221.28" r="1.45" fill="#3a1c16"/>
<circle cx="425.80" cy="218.16" r="1.45" fill="#3d6bd2"/>
<circle cx="429.40" cy="220.87" r="1.45" fill="#3d6bd2"/>
<circle cx="429.80" cy="218.43" r="1.45" fill="#3d6bd2"/>
<circle cx="427.80" cy="217.77" r="1.45" fill="#e0a552"/>
<circle cx="427.00" cy="218.68" r="1.45" fill="#2a3399"/>
<circle cx="427.80" cy="215.91" r="1.45" fill="#7ea4e2"/>
<circle cx="436.95" cy="239.68" r="1.45" fill="#3d6bd2"/>
<circle cx="438.95" cy="242.14" r="1.45" fill="#7ea4e2"/>
<circle cx="434.95" cy="246.39" r="1.45" fill="#2a3399"/>
<circle cx="434.55" cy="242.22" r="1.45" fill="#7ea4e2"/>
<circle cx="436.95" cy="241.49" r="1.45" fill="#3d6bd2"/>
<circle cx="434.95" cy="248.61" r="1.45" fill="#3a1c16"/>
<circle cx="435.35" cy="240.61" r="1.45" fill="#3d6bd2"/>
<circle cx="436.95" cy="245.90" r="1.45" fill="#2a3399"/>
<circle cx="436.95" cy="248.12" r="1.45" fill="#3a1c16"/>
<circle cx="436.15" cy="237.08" r="1.45" fill="#e0a552"/>
<circle cx="436.95" cy="235.45" r="1.45" fill="#e0a552"/>
<circle cx="444.50" cy="211.73" r="1.45" fill="#7ea4e2"/>
<circle cx="443.70" cy="216.60" r="1.45" fill="#3d6bd2"/>
<circle cx="446.10" cy="214.41" r="1.45" fill="#3d6bd2"/>
<circle cx="446.10" cy="216.34" r="1.45" fill="#2a3399"/>
<circle cx="444.10" cy="218.96" r="1.45" fill="#3a1c16"/>
<circle cx="448.10" cy="216.35" r="1.45" fill="#2a3399"/>
<circle cx="444.50" cy="215.17" r="1.45" fill="#3d6bd2"/>
<circle cx="446.10" cy="218.96" r="1.45" fill="#3a1c16"/>
<circle cx="446.10" cy="210.88" r="1.45" fill="#7ea4e2"/>
<circle cx="456.45" cy="219.31" r="1.45" fill="#3d6bd2"/>
<circle cx="454.45" cy="222.33" r="1.45" fill="#3a1c16"/>
<circle cx="455.25" cy="216.02" r="1.45" fill="#7ea4e2"/>
<circle cx="453.25" cy="218.54" r="1.45" fill="#3d6bd2"/>
<circle cx="453.25" cy="221.84" r="1.45" fill="#e0a552"/>
<circle cx="452.85" cy="219.79" r="1.45" fill="#3d6bd2"/>
<circle cx="454.85" cy="219.38" r="1.45" fill="#2a3399"/>
<circle cx="457.25" cy="221.98" r="1.45" fill="#3a1c16"/>
<circle cx="455.25" cy="217.96" r="1.45" fill="#7ea4e2"/>
<circle cx="455.25" cy="221.43" r="1.45" fill="#2a3399"/>
<circle cx="466.80" cy="220.83" r="1.45" fill="#2a3399"/>
<circle cx="464.40" cy="219.02" r="1.45" fill="#7ea4e2"/>
<circle cx="466.00" cy="219.80" r="1.45" fill="#3d6bd2"/>
<circle cx="465.20" cy="220.80" r="1.45" fill="#3d6bd2"/>
<circle cx="464.40" cy="217.16" r="1.45" fill="#e0a552"/>
<circle cx="462.40" cy="217.49" r="1.45" fill="#e0a552"/>
<circle cx="463.60" cy="220.54" r="1.45" fill="#3d6bd2"/>
<circle cx="462.80" cy="221.46" r="1.45" fill="#3a1c16"/>
<circle cx="462.40" cy="219.36" r="1.45" fill="#7ea4e2"/>
<circle cx="462.00" cy="220.71" r="1.45" fill="#2a3399"/>
<circle cx="473.15" cy="230.59" r="1.45" fill="#3a1c16"/>
<circle cx="474.75" cy="230.18" r="1.45" fill="#3a1c16"/>
<circle cx="474.75" cy="226.86" r="1.45" fill="#7ea4e2"/>
<circle cx="473.55" cy="225.50" r="1.45" fill="#3d6bd2"/>
<circle cx="471.15" cy="227.37" r="1.45" fill="#e0a552"/>
<circle cx="473.55" cy="228.65" r="1.45" fill="#2a3399"/>
<circle cx="475.95" cy="228.37" r="1.45" fill="#7ea4e2"/>
<circle cx="471.55" cy="225.76" r="1.45" fill="#3d6bd2"/>
<circle cx="471.95" cy="229.66" r="1.45" fill="#3a1c16"/>
<circle cx="472.75" cy="227.01" r="1.45" fill="#3d6bd2"/>
<circle cx="480.70" cy="228.14" r="1.45" fill="#7ea4e2"/>
<circle cx="485.10" cy="228.71" r="1.45" fill="#7ea4e2"/>
<circle cx="484.30" cy="228.60" r="1.45" fill="#3d6bd2"/>
<circle cx="481.90" cy="228.60" r="1.45" fill="#2a3399"/>
<circle cx="483.10" cy="228.66" r="1.45" fill="#3d6bd2"/>
<circle cx="482.70" cy="225.19" r="1.45" fill="#e0a552"/>
<circle cx="480.70" cy="225.71" r="1.45" fill="#e0a552"/>
<circle cx="482.70" cy="227.71" r="1.45" fill="#3d6bd2"/>
<circle cx="484.70" cy="225.74" r="1.45" fill="#e0a552"/>
<circle cx="489.85" cy="211.73" r="1.45" fill="#3d6bd2"/>
<circle cx="491.85" cy="215.94" r="1.45" fill="#2a3399"/>
<circle cx="489.45" cy="213.32" r="1.45" fill="#7ea4e2"/>
<circle cx="491.85" cy="219.52" r="1.45" fill="#3a1c16"/>
<circle cx="493.05" cy="212.46" r="1.45" fill="#3d6bd2"/>
<circle cx="489.85" cy="219.82" r="1.45" fill="#3a1c16"/>
<circle cx="491.85" cy="211.12" r="1.45" fill="#3d6bd2"/>
<circle cx="494.25" cy="213.67" r="1.45" fill="#2a3399"/>
<circle cx="491.05" cy="213.08" r="1.45" fill="#7ea4e2"/>
<circle cx="499.40" cy="232.64" r="1.45" fill="#e0a552"/>
<circle cx="499.00" cy="225.80" r="1.45" fill="#e0a552"/>
<circle cx="499.40" cy="230.44" r="1.45" fill="#3a1c16"/>
<circle cx="501.00" cy="225.53" r="1.45" fill="#e0a552"/>
<circle cx="501.00" cy="223.02" r="1.45" fill="#e0a552"/>
<circle cx="501.00" cy="229.16" r="1.45" fill="#3a1c16"/>
<circle cx="501.00" cy="231.65" r="1.45" fill="#e0a552"/>
<circle cx="503.00" cy="250.28" r="1.45" fill="#7ea4e2"/>
<circle cx="501.00" cy="246.88" r="1.45" fill="#3d6bd2"/>
<circle cx="499.00" cy="250.07" r="1.45" fill="#7ea4e2"/>
<circle cx="501.00" cy="249.84" r="1.45" fill="#3d6bd2"/>
<circle cx="501.00" cy="253.84" r="1.45" fill="#2a3399"/>
<circle cx="499.40" cy="245.49" r="1.45" fill="#2a3399"/>
<circle cx="500.20" cy="250.80" r="1.45" fill="#3d6bd2"/>
<circle cx="501.00" cy="244.47" r="1.45" fill="#2a3399"/>
<text x="453.80" y="172.30" font-size="5.8" text-anchor="middle" font-weight="normal" fill="#1a1a1a">Adult</text>
<text x="453.40" y="178.50" font-size="5.8" text-anchor="middle" font-weight="normal" fill="#1a1a1a">derived</text>
<text x="453.40" y="188.80" font-size="5.8" text-anchor="middle" font-weight="normal" fill="#1a1a1a">Embryonic</text>
<text x="453.40" y="194.60" font-size="5.8" text-anchor="middle" font-weight="normal" fill="#1a1a1a">derived</text>
<circle cx="471.2" cy="170.2" r="1.3" fill="#2a3d8f"/>
<text x="477.90" y="172.30" font-size="5.7" text-anchor="start" font-weight="normal" fill="#1a1a1a">CD45.1 d</text>
<circle cx="471.2" cy="176.2" r="1.3" fill="#86a0d4"/>
<text x="477.90" y="178.30" font-size="5.7" text-anchor="start" font-weight="normal" fill="#1a1a1a">CD45.2 d</text>
<circle cx="471.2" cy="186.6" r="1.3" fill="#3a1f1a"/>
<text x="477.90" y="188.70" font-size="5.7" text-anchor="start" font-weight="normal" fill="#1a1a1a">CD45.2 h</text>
<circle cx="471.2" cy="192.4" r="1.3" fill="#d8b080"/>
<text x="477.90" y="194.50" font-size="5.7" text-anchor="start" font-weight="normal" fill="#1a1a1a">CD45.1 h</text>
</svg></body></html>
